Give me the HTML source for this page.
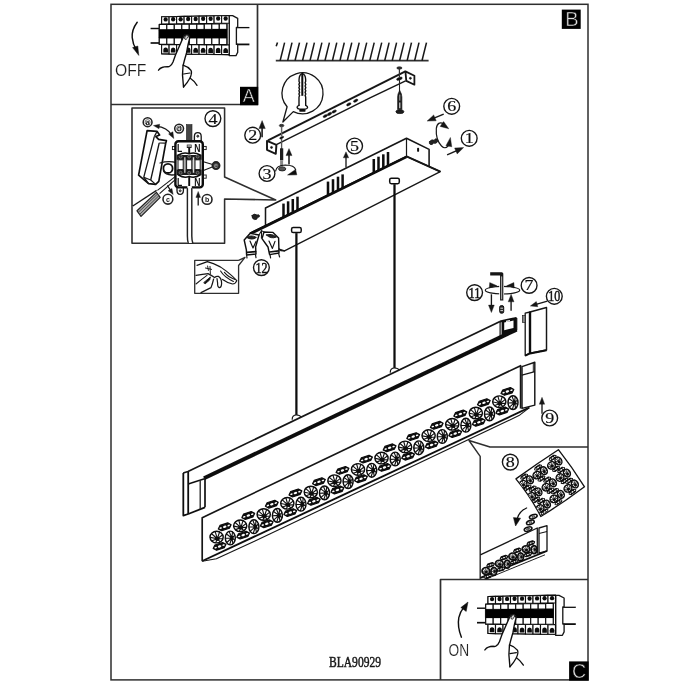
<!DOCTYPE html>
<html lang="en"><head><meta charset="utf-8"><title>BLA90929 assembly</title>
<style>
html,body{margin:0;padding:0;background:#fff;}
body{width:700px;height:700px;overflow:hidden;font-family:"Liberation Sans",sans-serif;}
svg{display:block;}
</style></head><body>
<svg width="700" height="700" viewBox="0 0 700 700">
<rect x="0" y="0" width="700" height="700" fill="#fff"/>
<defs><filter id="soft" x="0" y="0" width="700" height="700" filterUnits="userSpaceOnUse"><feGaussianBlur stdDeviation="0.35"/></filter></defs>
<g id="art" filter="url(#soft)">
<rect x="111" y="4.3" width="477" height="675.6" fill="none" stroke="#2e2e2e" stroke-width="1.5"/>
<polyline points="111.0,104.5 257.5,104.5 257.5,4.3" fill="none" stroke="#2e2e2e" stroke-width="1.68" stroke-linejoin="round" />
<rect x="240" y="86.8" width="18.2" height="18.4" fill="#000"/>
<text x="248.7" y="102.1" font-size="18" font-family="'Liberation Sans', sans-serif" fill="#e0e0e0" text-anchor="middle" stroke="#000" stroke-width="0.5">A</text>
<rect x="561.8" y="9.6" width="18.9" height="19.3" fill="#000"/>
<text x="571.9" y="26.3" font-size="20" font-family="'Liberation Sans', sans-serif" fill="#e0e0e0" text-anchor="middle" stroke="#000" stroke-width="0.5">B</text>
<polyline points="440.5,680.0 440.5,579.5 588.0,579.5" fill="none" stroke="#2e2e2e" stroke-width="1.68" stroke-linejoin="round" />
<rect x="569.1" y="661.4" width="19.6" height="19.3" fill="#000"/>
<text x="579.1" y="677.6" font-size="19.5" font-family="'Liberation Sans', sans-serif" fill="#e0e0e0" text-anchor="middle" stroke="#000" stroke-width="0.5">C</text>
<polyline points="588.0,447.0 490.0,447.0 469.0,440.5 480.2,456.4 480.2,579.5" fill="none" stroke="#2e2e2e" stroke-width="1.44" stroke-linejoin="round" />
<polygon points="132.0,108.0 224.6,108.0 224.6,177.0 275.7,200.0 224.6,199.0 224.6,243.2 132.0,243.2" fill="none" stroke="#2e2e2e" stroke-width="1.56" stroke-linejoin="round" />
<polyline points="238.6,260.4 194.7,260.4 194.7,293.3 238.6,293.3 238.6,265.5 245.0,257.3 238.6,260.4" fill="none" stroke="#2e2e2e" stroke-width="1.32" stroke-linejoin="round" />
<text x="355.0" y="666.6" font-size="14" font-family="'Liberation Serif', serif" fill="#161616" text-anchor="middle" textLength="52" lengthAdjust="spacingAndGlyphs" stroke="#1c1c1c" stroke-width="0.5">BLA90929</text>
<line x1="275.8" y1="60.7" x2="428.6" y2="60.7" stroke="#333" stroke-width="1.68" />
<line x1="276.2" y1="46.3" x2="277.5" y2="42.6" stroke="#161616" stroke-width="1.56" />
<line x1="280.1" y1="60.7" x2="284.6" y2="42.6" stroke="#161616" stroke-width="1.50" />
<line x1="287.6" y1="60.7" x2="292.0" y2="42.6" stroke="#161616" stroke-width="1.50" />
<line x1="295.0" y1="60.7" x2="299.5" y2="42.6" stroke="#161616" stroke-width="1.50" />
<line x1="302.5" y1="60.7" x2="307.0" y2="42.6" stroke="#161616" stroke-width="1.50" />
<line x1="310.0" y1="60.7" x2="314.4" y2="42.6" stroke="#161616" stroke-width="1.50" />
<line x1="317.5" y1="60.7" x2="321.9" y2="42.6" stroke="#161616" stroke-width="1.50" />
<line x1="324.9" y1="60.7" x2="329.4" y2="42.6" stroke="#161616" stroke-width="1.50" />
<line x1="332.4" y1="60.7" x2="336.8" y2="42.6" stroke="#161616" stroke-width="1.50" />
<line x1="339.9" y1="60.7" x2="344.3" y2="42.6" stroke="#161616" stroke-width="1.50" />
<line x1="347.3" y1="60.7" x2="351.8" y2="42.6" stroke="#161616" stroke-width="1.50" />
<line x1="354.8" y1="60.7" x2="359.2" y2="42.6" stroke="#161616" stroke-width="1.50" />
<line x1="362.3" y1="60.7" x2="366.7" y2="42.6" stroke="#161616" stroke-width="1.50" />
<line x1="369.7" y1="60.7" x2="374.2" y2="42.6" stroke="#161616" stroke-width="1.50" />
<line x1="377.2" y1="60.7" x2="381.7" y2="42.6" stroke="#161616" stroke-width="1.50" />
<line x1="384.7" y1="60.7" x2="389.1" y2="42.6" stroke="#161616" stroke-width="1.50" />
<line x1="392.2" y1="60.7" x2="396.6" y2="42.6" stroke="#161616" stroke-width="1.50" />
<line x1="399.6" y1="60.7" x2="404.1" y2="42.6" stroke="#161616" stroke-width="1.50" />
<line x1="407.1" y1="60.7" x2="411.5" y2="42.6" stroke="#161616" stroke-width="1.50" />
<line x1="414.6" y1="60.7" x2="419.0" y2="42.6" stroke="#161616" stroke-width="1.50" />
<line x1="422.0" y1="60.7" x2="426.5" y2="42.6" stroke="#161616" stroke-width="1.50" />
<path d="M287.1,106.8 A20.5,20.5 0 1 1 293.3,111.6 L282.9,122 Z" fill="#fff" stroke="#161616" stroke-width="1.32" stroke-linejoin="round" stroke-linecap="round" />
<path d="M299.0,105.3 L299.0,97 L299.6,95.6 L298.9,94 L299.6,92.4 L298.9,90.8 L299.6,89.2 L298.9,87.6 L299.6,86 L298.9,84.4 L299.6,82.8 L299.0,81.2 L299.1,79 Q299.3,74.5 302.3,73.3 Q305.4,74.5 305.6,79 L305.7,81.2 L305.1,82.8 L305.8,84.4 L305.1,86 L305.8,87.6 L305.1,89.2 L305.8,90.8 L305.1,92.4 L305.8,94 L305.1,95.6 L305.7,97 L305.7,105.3" fill="none" stroke="#111" stroke-width="1.38" stroke-linejoin="round" stroke-linecap="round" />
<line x1="302.3" y1="74.0" x2="302.3" y2="95.8" stroke="#111" stroke-width="2.04" />
<path d="M299.0,105.3 Q296.9,106 297.1,107.5 Q297.5,109 299.6,109.1 L305.1,109.1 Q307.4,109 307.6,107.5 Q307.7,106 305.7,105.3" fill="none" stroke="#111" stroke-width="1.38" stroke-linejoin="round" stroke-linecap="round" />
<rect x="299.3" y="109" width="6.2" height="2.8" rx="0.9" fill="#111"/>
<polyline points="268.0,140.4 405.4,71.4" fill="none" stroke="#161616" stroke-width="1.92" stroke-linejoin="round" />
<polyline points="276.4,144.7 370.0,97.8 405.6,80.9" fill="none" stroke="#161616" stroke-width="1.44" stroke-linejoin="round" />
<polygon points="267.0,140.9 276.4,144.9 275.8,153.8 267.0,149.8" fill="#fff" stroke="#161616" stroke-width="1.92" stroke-linejoin="round" />
<circle cx="271.5" cy="147.4" r="1.0" fill="#161616" stroke="#161616" stroke-width="0.72"/>
<polygon points="405.4,71.4 414.4,75.7 414.4,84.7 406.3,80.9" fill="#fff" stroke="#161616" stroke-width="1.80" stroke-linejoin="round" />
<circle cx="410.4" cy="78.3" r="1.0" fill="#161616" stroke="#161616" stroke-width="0.72"/>
<ellipse cx="325.3" cy="116.0" rx="2.4" ry="1.2" transform="rotate(-27 325.3 116.0)" fill="#111" stroke="#161616" stroke-width="0.48"/>
<ellipse cx="329.6" cy="113.9" rx="2.4" ry="1.2" transform="rotate(-27 329.6 113.9)" fill="#111" stroke="#161616" stroke-width="0.48"/>
<ellipse cx="334.2" cy="111.5" rx="2.4" ry="1.2" transform="rotate(-27 334.2 111.5)" fill="#111" stroke="#161616" stroke-width="0.48"/>
<ellipse cx="348.8" cy="104.3" rx="2.4" ry="1.2" transform="rotate(-27 348.8 104.3)" fill="#111" stroke="#161616" stroke-width="0.48"/>
<ellipse cx="355.7" cy="100.7" rx="2.4" ry="1.2" transform="rotate(-27 355.7 100.7)" fill="#111" stroke="#161616" stroke-width="0.48"/>
<ellipse cx="281.7" cy="137.6" rx="2.2" ry="1.0" transform="rotate(-27 281.7 137.6)" fill="#111" stroke="#161616" stroke-width="0.48"/>
<ellipse cx="399.4" cy="78.7" rx="3.0" ry="1.3" transform="rotate(-20 399.4 78.7)" fill="#111" stroke="#161616" stroke-width="0.48"/>
<ellipse cx="281.6" cy="125.6" rx="2.3" ry="1.3" transform="rotate(0 281.6 125.6)" fill="#333" stroke="#161616" stroke-width="0.60"/>
<line x1="281.6" y1="126.5" x2="281.6" y2="136.5" stroke="#666" stroke-width="1.44" />
<line x1="281.6" y1="139.0" x2="281.6" y2="149.0" stroke="#555" stroke-width="1.32" />
<line x1="281.6" y1="148.3" x2="281.6" y2="160.3" stroke="#1a1a1a" stroke-width="3.24" />
<line x1="281.6" y1="160.3" x2="281.6" y2="166.5" stroke="#888" stroke-width="3.00" />
<path d="M275.6,171 Q276.4,165.2 285.4,165 Q294.6,165.2 295.6,169.6" fill="none" stroke="#161616" stroke-width="1.20" stroke-linejoin="round" stroke-linecap="round" />
<ellipse cx="282.2" cy="168.9" rx="3.6" ry="2.0" transform="rotate(0 282.2 168.9)" fill="#555" stroke="#222" stroke-width="0.96"/>
<polygon points="287.6,175.0 295.6,169.4 296.8,174.8" fill="#111" stroke="#161616" stroke-width="0.48" stroke-linejoin="round" />
<line x1="289.0" y1="164.6" x2="289.0" y2="154.6" stroke="#161616" stroke-width="1.56" />
<polygon points="289.0,148.6 292.0,155.6 286.0,155.6" fill="#161616" stroke="#161616" stroke-width="0.36" stroke-linejoin="round" />
<line x1="262.1" y1="137.2" x2="262.1" y2="127.6" stroke="#161616" stroke-width="1.56" />
<polygon points="262.1,120.6 265.3,128.6 258.9,128.6" fill="#161616" stroke="#161616" stroke-width="0.36" stroke-linejoin="round" />
<circle cx="252.7" cy="135.2" r="7.9" fill="#fff" stroke="#161616" stroke-width="1.38"/>
<text transform="translate(252.7,140.2) scale(1.2,1)" x="0" y="0" font-size="15" font-family="'Liberation Serif', serif" fill="#111" stroke="#111" stroke-width="0.2" text-anchor="middle">2</text>
<circle cx="267.0" cy="173.5" r="7.9" fill="#fff" stroke="#161616" stroke-width="1.38"/>
<text transform="translate(267.0,178.5) scale(1.2,1)" x="0" y="0" font-size="15" font-family="'Liberation Serif', serif" fill="#111" stroke="#111" stroke-width="0.2" text-anchor="middle">3</text>
<ellipse cx="399.4" cy="68.0" rx="2.6" ry="1.2" transform="rotate(0 399.4 68.0)" fill="#333" stroke="#161616" stroke-width="0.60"/>
<line x1="399.4" y1="69.0" x2="399.4" y2="77.5" stroke="#333" stroke-width="1.20" />
<line x1="399.5" y1="80.0" x2="399.5" y2="92.0" stroke="#222" stroke-width="1.08" />
<path d="M399.6,90.6 Q397.7,93.6 397.6,97 L397.6,109.6 L401.9,109.6 L401.9,97 Q401.8,93.6 399.8,90.6 Z" fill="#1c1c1c" stroke="#111" stroke-width="0.60" stroke-linejoin="round" stroke-linecap="round" />
<line x1="399.8" y1="94.6" x2="399.8" y2="100.6" stroke="#bbb" stroke-width="0.96" />
<line x1="399.8" y1="102.6" x2="399.8" y2="108.2" stroke="#eee" stroke-width="1.08" />
<ellipse cx="399.9" cy="111.7" rx="4.0" ry="1.9" transform="rotate(0 399.9 111.7)" fill="#1c1c1c" stroke="#111" stroke-width="0.72"/>
<polyline points="250.0,233.0 406.5,156.3 440.3,171.7 284.5,250.9 279.0,249.0" fill="#fff" stroke="#161616" stroke-width="1.32" stroke-linejoin="round" />
<polyline points="265.5,226.0 265.5,208.0 406.5,138.3 429.1,149.4 429.1,166.4" fill="none" stroke="#161616" stroke-width="1.56" stroke-linejoin="round" />
<line x1="406.5" y1="138.3" x2="406.5" y2="156.3" stroke="#161616" stroke-width="1.20" />
<line x1="250.0" y1="233.9" x2="406.5" y2="156.9" stroke="#0c0c0c" stroke-width="2.64" />
<line x1="406.5" y1="156.3" x2="440.3" y2="171.7" stroke="#161616" stroke-width="1.92" />
<line x1="283.5" y1="203.6" x2="283.5" y2="217.7" stroke="#0c0c0c" stroke-width="2.52" />
<line x1="288.1" y1="201.3" x2="288.1" y2="215.4" stroke="#0c0c0c" stroke-width="2.52" />
<line x1="292.8" y1="199.0" x2="292.8" y2="213.1" stroke="#0c0c0c" stroke-width="2.52" />
<line x1="297.5" y1="196.7" x2="297.5" y2="210.8" stroke="#0c0c0c" stroke-width="2.52" />
<line x1="328.0" y1="181.6" x2="328.0" y2="195.8" stroke="#0c0c0c" stroke-width="2.52" />
<line x1="333.0" y1="179.2" x2="333.0" y2="193.3" stroke="#0c0c0c" stroke-width="2.52" />
<line x1="338.0" y1="176.7" x2="338.0" y2="190.8" stroke="#0c0c0c" stroke-width="2.52" />
<line x1="342.6" y1="174.4" x2="342.6" y2="188.6" stroke="#0c0c0c" stroke-width="2.52" />
<line x1="373.8" y1="159.0" x2="373.8" y2="173.2" stroke="#0c0c0c" stroke-width="2.52" />
<line x1="378.5" y1="156.7" x2="378.5" y2="170.9" stroke="#0c0c0c" stroke-width="2.52" />
<line x1="383.3" y1="154.3" x2="383.3" y2="168.5" stroke="#0c0c0c" stroke-width="2.52" />
<line x1="388.0" y1="152.0" x2="388.0" y2="166.2" stroke="#0c0c0c" stroke-width="2.52" />
<rect x="417.1" y="147.8" width="2.0" height="4.0" rx="0.9" fill="#111"/>
<rect x="291.6" y="227.5" width="9.6" height="5.1" rx="1.6" fill="#fff" stroke="#111" stroke-width="1.5"/>
<line x1="296.4" y1="233.1" x2="296.4" y2="415.0" stroke="#111" stroke-width="2.28" />
<path d="M292.2,419.2 Q292.2,415 296.4,415 Q300.59999999999997,415 300.59999999999997,417.2" fill="#fff" stroke="#161616" stroke-width="1.20" stroke-linejoin="round" stroke-linecap="round" />
<rect x="389.7" y="178.2" width="9.6" height="5.5" rx="1.6" fill="#fff" stroke="#111" stroke-width="1.5"/>
<line x1="394.5" y1="184.2" x2="394.5" y2="368.0" stroke="#111" stroke-width="2.28" />
<path d="M390.3,372.2 Q390.3,368 394.5,368 Q398.7,368 398.7,370.2" fill="#fff" stroke="#161616" stroke-width="1.20" stroke-linejoin="round" stroke-linecap="round" />
<line x1="346.0" y1="167.4" x2="346.0" y2="156.8" stroke="#161616" stroke-width="1.32" />
<polygon points="346.0,151.8 348.7,157.8 343.3,157.8" fill="#161616" stroke="#161616" stroke-width="0.36" stroke-linejoin="round" />
<circle cx="354.6" cy="146.0" r="7.9" fill="#fff" stroke="#161616" stroke-width="1.38"/>
<text transform="translate(354.6,151.0) scale(1.2,1)" x="0" y="0" font-size="15" font-family="'Liberation Serif', serif" fill="#111" stroke="#111" stroke-width="0.2" text-anchor="middle">5</text>
<path d="M252,215.5 q2.5,-2.5 5,-0.5 q2,-1 2.6,0.8 q0.2,1.6 -2,1.6 q-0.4,2.6 -3,2.2 q-3,-0.6 -2.6,-4.1 Z" fill="#222" stroke="#161616" stroke-width="0.72" stroke-linejoin="round" stroke-linecap="round" />
<circle cx="451.7" cy="106.3" r="7.9" fill="#fff" stroke="#161616" stroke-width="1.38"/>
<text transform="translate(451.7,111.3) scale(1.2,1)" x="0" y="0" font-size="15" font-family="'Liberation Serif', serif" fill="#111" stroke="#111" stroke-width="0.2" text-anchor="middle">6</text>
<circle cx="469.2" cy="138.3" r="7.9" fill="#fff" stroke="#161616" stroke-width="1.38"/>
<text transform="translate(469.2,143.3) scale(1.2,1)" x="0" y="0" font-size="15" font-family="'Liberation Serif', serif" fill="#111" stroke="#111" stroke-width="0.2" text-anchor="middle">1</text>
<line x1="443.7" y1="114.2" x2="434.0" y2="118.2" stroke="#161616" stroke-width="1.44" />
<polygon points="427.1,121.1 433.7,114.9 436.2,120.8" fill="#161616" stroke="#161616" stroke-width="0.36" stroke-linejoin="round" />
<line x1="447.1" y1="154.9" x2="456.8" y2="150.6" stroke="#161616" stroke-width="1.44" />
<polygon points="463.7,147.5 457.2,153.9 454.6,148.0" fill="#161616" stroke="#161616" stroke-width="0.36" stroke-linejoin="round" />
<path d="M444,124 Q437.5,120.5 436.3,128.5 Q435.6,140 441.5,146 Q445,149.5 448,146" fill="none" stroke="#161616" stroke-width="1.20" stroke-linejoin="round" stroke-linecap="round" />
<polygon points="448.8,128.8 440.1,126.4 443.6,121.5" fill="#161616" stroke="#161616" stroke-width="0.36" stroke-linejoin="round" />
<polygon points="450.4,137.4 451.8,146.8 445.9,145.7" fill="#161616" stroke="#161616" stroke-width="0.36" stroke-linejoin="round" />
<path d="M429.5,141.5 q2.2,-2.8 4.8,-1.2 q0.6,-2.4 2.8,-1.2 q1.8,1.8 -0.4,3.6 q-1.6,1.2 -3,0.4 q-1.2,2.2 -3.4,1.4 q-1.8,-1 -0.8,-3 Z" fill="#222" stroke="#161616" stroke-width="0.72" stroke-linejoin="round" stroke-linecap="round" />
<polyline points="183.2,473.0 188.0,471.5 500.0,321.5" fill="none" stroke="#161616" stroke-width="1.74" stroke-linejoin="round" />
<line x1="500.0" y1="321.5" x2="516.5" y2="318.0" stroke="#111" stroke-width="2.16" />
<polyline points="183.3,473.0 183.3,515.6 188.2,514.0 205.0,507.3" fill="none" stroke="#111" stroke-width="1.80" stroke-linejoin="round" />
<line x1="188.2" y1="471.5" x2="188.2" y2="514.0" stroke="#111" stroke-width="1.80" />
<line x1="188.2" y1="484.0" x2="204.5" y2="478.8" stroke="#111" stroke-width="1.44" />
<line x1="200.2" y1="480.3" x2="200.2" y2="508.8" stroke="#222" stroke-width="1.32" />
<line x1="205.0" y1="478.6" x2="205.0" y2="507.3" stroke="#111" stroke-width="1.68" />
<polyline points="204.0,478.2 516.5,329.6" fill="none" stroke="#0d0d0d" stroke-width="3.96" stroke-linejoin="round" />
<polygon points="502,321.3 516.9,318 516.9,330.4 502,337.6" fill="#0c0c0c" stroke="#0c0c0c" stroke-width="0.8" stroke-linejoin="round"/>
<polygon points="504.2,322.6 513.5,320.5 513.5,328 504.2,330.2" fill="#fff"/>
<line x1="500.1" y1="321.6" x2="500.1" y2="338.4" stroke="#111" stroke-width="1.20" />
<line x1="506.0" y1="321.4" x2="510.0" y2="320.6" stroke="#fff" stroke-width="1.20" />
<polygon points="530.0,312.0 546.5,307.5 546.5,350.0 530.0,353.2" fill="#fff" stroke="#161616" stroke-width="1.44" stroke-linejoin="round" />
<polygon points="530.0,312.0 525.2,313.2 525.2,355.6 530.0,353.2" fill="#fff" stroke="#161616" stroke-width="1.32" stroke-linejoin="round" />
<line x1="530.0" y1="312.0" x2="530.0" y2="353.2" stroke="#111" stroke-width="2.40" />
<polyline points="525.2,355.6 530.0,353.4 546.5,350.2" fill="none" stroke="#111" stroke-width="2.04" stroke-linejoin="round" />
<rect x="522.4" y="315.6" width="2.8" height="6.8" fill="#888" stroke="#222" stroke-width="0.7"/>
<circle cx="554.3" cy="296.3" r="7.9" fill="#fff" stroke="#161616" stroke-width="1.38"/>
<text x="554.3" y="301.3" font-size="15" font-family="'Liberation Serif', serif" fill="#111" stroke="#111" stroke-width="0.5" text-anchor="middle" textLength="12.0" lengthAdjust="spacingAndGlyphs">10</text>
<line x1="547.4" y1="301.1" x2="536.1" y2="304.3" stroke="#161616" stroke-width="1.32" />
<polygon points="530.3,306.0 536.3,301.5 537.8,306.7" fill="#161616" stroke="#161616" stroke-width="0.36" stroke-linejoin="round" />
<ellipse cx="502.5" cy="290.2" rx="17.2" ry="3.8" transform="rotate(0 502.5 290.2)" fill="none" stroke="#161616" stroke-width="1.14"/>
<rect x="499.2" y="283" width="4.8" height="12" fill="#fff"/>
<polyline points="490.2,273.8 501.7,273.8 501.7,300.4" fill="none" stroke="#151515" stroke-width="3.24" stroke-linejoin="round" />
<line x1="501.7" y1="276.4" x2="501.7" y2="299.4" stroke="#d8d8d8" stroke-width="0.90" />
<polygon points="497.0,285.8 489.3,288.1 489.7,282.5" fill="#161616" stroke="#161616" stroke-width="0.36" stroke-linejoin="round" />
<polygon points="506.6,285.8 513.9,282.5 514.3,288.1" fill="#161616" stroke="#161616" stroke-width="0.36" stroke-linejoin="round" />
<line x1="491.4" y1="294.3" x2="491.4" y2="306.1" stroke="#161616" stroke-width="1.38" />
<polygon points="491.4,312.6 488.5,305.1 494.3,305.1" fill="#161616" stroke="#161616" stroke-width="0.36" stroke-linejoin="round" />
<line x1="511.1" y1="310.8" x2="511.1" y2="300.8" stroke="#161616" stroke-width="1.38" />
<polygon points="511.1,294.3 514.0,301.8 508.2,301.8" fill="#161616" stroke="#161616" stroke-width="0.36" stroke-linejoin="round" />
<rect x="499.7" y="305.6" width="4" height="7.6" rx="1.6" fill="#2a2a2a" stroke="#111" stroke-width="1.0"/>
<line x1="500.4" y1="308.2" x2="503.0" y2="308.2" stroke="#ddd" stroke-width="0.96" />
<line x1="500.4" y1="310.6" x2="503.0" y2="310.6" stroke="#ddd" stroke-width="0.96" />
<circle cx="529.1" cy="285.4" r="7.9" fill="#fff" stroke="#161616" stroke-width="1.38"/>
<text transform="translate(529.1,290.4) scale(1.2,1)" x="0" y="0" font-size="15" font-family="'Liberation Serif', serif" fill="#111" stroke="#111" stroke-width="0.2" text-anchor="middle">7</text>
<circle cx="474.6" cy="292.6" r="7.9" fill="#fff" stroke="#161616" stroke-width="1.38"/>
<text x="474.6" y="297.6" font-size="15" font-family="'Liberation Serif', serif" fill="#111" stroke="#111" stroke-width="0.5" text-anchor="middle" textLength="12.0" lengthAdjust="spacingAndGlyphs">11</text>
<polyline points="202.2,561.0 202.2,517.7 520.6,365.7 520.6,408.6" fill="#fff" stroke="#161616" stroke-width="1.68" stroke-linejoin="round" />
<polyline points="202.3,561.0 529.1,407.7" fill="none" stroke="#111" stroke-width="1.92" stroke-linejoin="round" />
<path d="M202.3,561.2 L216.4,558.8 L255,541.0 L519,415.6 L529.1,407.9" fill="none" stroke="#161616" stroke-width="1.14" stroke-linejoin="round" stroke-linecap="round" />
<polygon points="522.0,366.6 534.8,362.3 534.8,405.1 522.0,408.4" fill="#fff" stroke="#161616" stroke-width="1.44" stroke-linejoin="round" />
<line x1="522.0" y1="375.2" x2="534.8" y2="371.6" stroke="#161616" stroke-width="1.20" />
<line x1="533.3" y1="362.8" x2="533.3" y2="372.0" stroke="#161616" stroke-width="0.96" />
<ellipse cx="216.6" cy="537.1" rx="6.6" ry="5.8" transform="rotate(0 216.6 537.1)" fill="#fff" stroke="#0a0a0a" stroke-width="1.44"/>
<path d="M217.3,538.8 L222.6,538.7 M217.3,538.8 L220.0,541.7 M217.3,538.8 L215.8,542.6 M217.3,538.8 L212.0,540.8 M217.3,538.8 L210.3,537.4 M217.3,538.8 L211.6,533.8 M217.3,538.8 L215.2,531.7 M217.3,538.8 L219.5,532.2 M217.3,538.8 L222.4,535.0" fill="none" stroke="#111" stroke-width="1.14" stroke-linejoin="round" stroke-linecap="round" />
<ellipse cx="217.3" cy="538.8" rx="2.5" ry="2.1" transform="rotate(0 217.3 538.8)" fill="#111" stroke="#161616" stroke-width="0.00"/>
<ellipse cx="230.3" cy="538.0" rx="5.0" ry="6.9" transform="rotate(0 230.3 538.0)" fill="#fff" stroke="#0a0a0a" stroke-width="1.44"/>
<path d="M231.8,538.0 L234.8,539.9 M231.8,538.0 L232.9,543.5 M231.8,538.0 L229.7,544.5 M231.8,538.0 L226.8,542.5 M231.8,538.0 L225.6,538.3 M231.8,538.0 L226.5,534.0 M231.8,538.0 L229.2,531.6 M231.8,538.0 L232.5,532.2 M231.8,538.0 L234.7,535.5" fill="none" stroke="#111" stroke-width="1.14" stroke-linejoin="round" stroke-linecap="round" />
<ellipse cx="231.8" cy="538.0" rx="1.9" ry="2.5" transform="rotate(0 231.8 538.0)" fill="#111" stroke="#161616" stroke-width="0.00"/>
<polygon points="218.3,528.9 220.0,525.4 227.7,522.9 231.1,524.7 229.4,528.2 221.7,530.7" fill="#111" stroke="#0a0a0a" stroke-width="1.20" stroke-linejoin="round" />
<ellipse cx="220.7" cy="528.1" rx="1.3" ry="0.8" transform="rotate(-18 220.7 528.1)" fill="#fff" stroke="#161616" stroke-width="0.00"/>
<ellipse cx="224.7" cy="526.8" rx="1.8" ry="1.1" transform="rotate(-18 224.7 526.8)" fill="#fff" stroke="#161616" stroke-width="0.00"/>
<ellipse cx="228.7" cy="525.5" rx="1.3" ry="0.8" transform="rotate(-18 228.7 525.5)" fill="#fff" stroke="#161616" stroke-width="0.00"/>
<polygon points="213.2,548.5 214.9,545.0 222.6,542.5 226.0,544.3 224.3,547.8 216.6,550.3" fill="#111" stroke="#0a0a0a" stroke-width="1.20" stroke-linejoin="round" />
<ellipse cx="215.6" cy="547.7" rx="1.3" ry="0.8" transform="rotate(-18 215.6 547.7)" fill="#fff" stroke="#161616" stroke-width="0.00"/>
<ellipse cx="219.6" cy="546.4" rx="1.8" ry="1.1" transform="rotate(-18 219.6 546.4)" fill="#fff" stroke="#161616" stroke-width="0.00"/>
<ellipse cx="223.6" cy="545.1" rx="1.3" ry="0.8" transform="rotate(-18 223.6 545.1)" fill="#fff" stroke="#161616" stroke-width="0.00"/>
<ellipse cx="240.2" cy="525.8" rx="6.6" ry="5.8" transform="rotate(0 240.2 525.8)" fill="#fff" stroke="#0a0a0a" stroke-width="1.44"/>
<path d="M240.8,527.6 L246.1,527.4 M240.8,527.6 L243.6,530.5 M240.8,527.6 L239.4,531.3 M240.8,527.6 L235.6,529.6 M240.8,527.6 L233.9,526.1 M240.8,527.6 L235.2,522.5 M240.8,527.6 L238.8,520.4 M240.8,527.6 L243.0,520.9 M240.8,527.6 L245.9,523.7" fill="none" stroke="#111" stroke-width="1.14" stroke-linejoin="round" stroke-linecap="round" />
<ellipse cx="240.8" cy="527.6" rx="2.5" ry="2.1" transform="rotate(0 240.8 527.6)" fill="#111" stroke="#161616" stroke-width="0.00"/>
<ellipse cx="253.9" cy="526.7" rx="5.0" ry="6.9" transform="rotate(0 253.9 526.7)" fill="#fff" stroke="#0a0a0a" stroke-width="1.44"/>
<path d="M255.4,526.7 L258.4,528.7 M255.4,526.7 L256.4,532.2 M255.4,526.7 L253.3,533.2 M255.4,526.7 L250.4,531.2 M255.4,526.7 L249.1,527.0 M255.4,526.7 L250.1,522.8 M255.4,526.7 L252.8,520.3 M255.4,526.7 L256.0,520.9 M255.4,526.7 L258.2,524.2" fill="none" stroke="#111" stroke-width="1.14" stroke-linejoin="round" stroke-linecap="round" />
<ellipse cx="255.4" cy="526.7" rx="1.9" ry="2.5" transform="rotate(0 255.4 526.7)" fill="#111" stroke="#161616" stroke-width="0.00"/>
<polygon points="241.9,517.6 243.6,514.1 251.2,511.6 254.6,513.4 252.9,516.9 245.3,519.4" fill="#111" stroke="#0a0a0a" stroke-width="1.20" stroke-linejoin="round" />
<ellipse cx="244.3" cy="516.8" rx="1.3" ry="0.8" transform="rotate(-18 244.3 516.8)" fill="#fff" stroke="#161616" stroke-width="0.00"/>
<ellipse cx="248.3" cy="515.5" rx="1.8" ry="1.1" transform="rotate(-18 248.3 515.5)" fill="#fff" stroke="#161616" stroke-width="0.00"/>
<ellipse cx="252.2" cy="514.2" rx="1.3" ry="0.8" transform="rotate(-18 252.2 514.2)" fill="#fff" stroke="#161616" stroke-width="0.00"/>
<polygon points="236.8,537.2 238.5,533.7 246.1,531.2 249.5,533.0 247.8,536.5 240.2,539.0" fill="#111" stroke="#0a0a0a" stroke-width="1.20" stroke-linejoin="round" />
<ellipse cx="239.2" cy="536.4" rx="1.3" ry="0.8" transform="rotate(-18 239.2 536.4)" fill="#fff" stroke="#161616" stroke-width="0.00"/>
<ellipse cx="243.2" cy="535.1" rx="1.8" ry="1.1" transform="rotate(-18 243.2 535.1)" fill="#fff" stroke="#161616" stroke-width="0.00"/>
<ellipse cx="247.1" cy="533.8" rx="1.3" ry="0.8" transform="rotate(-18 247.1 533.8)" fill="#fff" stroke="#161616" stroke-width="0.00"/>
<ellipse cx="263.7" cy="514.5" rx="6.6" ry="5.8" transform="rotate(0 263.7 514.5)" fill="#fff" stroke="#0a0a0a" stroke-width="1.44"/>
<path d="M264.4,516.3 L269.7,516.2 M264.4,516.3 L267.1,519.2 M264.4,516.3 L262.9,520.0 M264.4,516.3 L259.1,518.3 M264.4,516.3 L257.5,514.8 M264.4,516.3 L258.7,511.2 M264.4,516.3 L262.3,509.2 M264.4,516.3 L266.6,509.6 M264.4,516.3 L269.5,512.4" fill="none" stroke="#111" stroke-width="1.14" stroke-linejoin="round" stroke-linecap="round" />
<ellipse cx="264.4" cy="516.3" rx="2.5" ry="2.1" transform="rotate(0 264.4 516.3)" fill="#111" stroke="#161616" stroke-width="0.00"/>
<ellipse cx="277.4" cy="515.4" rx="5.0" ry="6.9" transform="rotate(0 277.4 515.4)" fill="#fff" stroke="#0a0a0a" stroke-width="1.44"/>
<path d="M278.9,515.4 L282.0,517.4 M278.9,515.4 L280.0,520.9 M278.9,515.4 L276.8,521.9 M278.9,515.4 L273.9,519.9 M278.9,515.4 L272.7,515.8 M278.9,515.4 L273.6,511.5 M278.9,515.4 L276.4,509.0 M278.9,515.4 L279.6,509.6 M278.9,515.4 L281.8,512.9" fill="none" stroke="#111" stroke-width="1.14" stroke-linejoin="round" stroke-linecap="round" />
<ellipse cx="278.9" cy="515.4" rx="1.9" ry="2.5" transform="rotate(0 278.9 515.4)" fill="#111" stroke="#161616" stroke-width="0.00"/>
<polygon points="265.4,506.3 267.1,502.8 274.8,500.3 278.2,502.2 276.5,505.7 268.9,508.1" fill="#111" stroke="#0a0a0a" stroke-width="1.20" stroke-linejoin="round" />
<ellipse cx="267.9" cy="505.5" rx="1.3" ry="0.8" transform="rotate(-18 267.9 505.5)" fill="#fff" stroke="#161616" stroke-width="0.00"/>
<ellipse cx="271.8" cy="504.2" rx="1.8" ry="1.1" transform="rotate(-18 271.8 504.2)" fill="#fff" stroke="#161616" stroke-width="0.00"/>
<ellipse cx="275.8" cy="503.0" rx="1.3" ry="0.8" transform="rotate(-18 275.8 503.0)" fill="#fff" stroke="#161616" stroke-width="0.00"/>
<polygon points="260.3,525.9 262.0,522.4 269.7,519.9 273.1,521.8 271.4,525.3 263.8,527.7" fill="#111" stroke="#0a0a0a" stroke-width="1.20" stroke-linejoin="round" />
<ellipse cx="262.8" cy="525.1" rx="1.3" ry="0.8" transform="rotate(-18 262.8 525.1)" fill="#fff" stroke="#161616" stroke-width="0.00"/>
<ellipse cx="266.7" cy="523.8" rx="1.8" ry="1.1" transform="rotate(-18 266.7 523.8)" fill="#fff" stroke="#161616" stroke-width="0.00"/>
<ellipse cx="270.7" cy="522.6" rx="1.3" ry="0.8" transform="rotate(-18 270.7 522.6)" fill="#fff" stroke="#161616" stroke-width="0.00"/>
<ellipse cx="287.3" cy="503.3" rx="6.6" ry="5.8" transform="rotate(0 287.3 503.3)" fill="#fff" stroke="#0a0a0a" stroke-width="1.44"/>
<path d="M287.9,505.0 L293.3,504.9 M287.9,505.0 L290.7,507.9 M287.9,505.0 L286.5,508.7 M287.9,505.0 L282.7,507.0 M287.9,505.0 L281.0,503.5 M287.9,505.0 L282.3,499.9 M287.9,505.0 L285.9,497.9 M287.9,505.0 L290.1,498.4 M287.9,505.0 L293.1,501.1" fill="none" stroke="#111" stroke-width="1.14" stroke-linejoin="round" stroke-linecap="round" />
<ellipse cx="287.9" cy="505.0" rx="2.5" ry="2.1" transform="rotate(0 287.9 505.0)" fill="#111" stroke="#161616" stroke-width="0.00"/>
<ellipse cx="301.0" cy="504.2" rx="5.0" ry="6.9" transform="rotate(0 301.0 504.2)" fill="#fff" stroke="#0a0a0a" stroke-width="1.44"/>
<path d="M302.5,504.2 L305.5,506.1 M302.5,504.2 L303.6,509.7 M302.5,504.2 L300.4,510.7 M302.5,504.2 L297.5,508.6 M302.5,504.2 L296.2,504.5 M302.5,504.2 L297.2,500.2 M302.5,504.2 L299.9,497.8 M302.5,504.2 L303.2,498.3 M302.5,504.2 L305.4,501.6" fill="none" stroke="#111" stroke-width="1.14" stroke-linejoin="round" stroke-linecap="round" />
<ellipse cx="302.5" cy="504.2" rx="1.9" ry="2.5" transform="rotate(0 302.5 504.2)" fill="#111" stroke="#161616" stroke-width="0.00"/>
<polygon points="289.0,495.0 290.7,491.5 298.3,489.1 301.8,490.9 300.1,494.4 292.4,496.9" fill="#111" stroke="#0a0a0a" stroke-width="1.20" stroke-linejoin="round" />
<ellipse cx="291.4" cy="494.2" rx="1.3" ry="0.8" transform="rotate(-18 291.4 494.2)" fill="#fff" stroke="#161616" stroke-width="0.00"/>
<ellipse cx="295.4" cy="493.0" rx="1.8" ry="1.1" transform="rotate(-18 295.4 493.0)" fill="#fff" stroke="#161616" stroke-width="0.00"/>
<ellipse cx="299.3" cy="491.7" rx="1.3" ry="0.8" transform="rotate(-18 299.3 491.7)" fill="#fff" stroke="#161616" stroke-width="0.00"/>
<polygon points="283.9,514.6 285.6,511.1 293.2,508.7 296.7,510.5 295.0,514.0 287.3,516.5" fill="#111" stroke="#0a0a0a" stroke-width="1.20" stroke-linejoin="round" />
<ellipse cx="286.3" cy="513.8" rx="1.3" ry="0.8" transform="rotate(-18 286.3 513.8)" fill="#fff" stroke="#161616" stroke-width="0.00"/>
<ellipse cx="290.3" cy="512.6" rx="1.8" ry="1.1" transform="rotate(-18 290.3 512.6)" fill="#fff" stroke="#161616" stroke-width="0.00"/>
<ellipse cx="294.2" cy="511.3" rx="1.3" ry="0.8" transform="rotate(-18 294.2 511.3)" fill="#fff" stroke="#161616" stroke-width="0.00"/>
<ellipse cx="310.8" cy="492.0" rx="6.6" ry="5.8" transform="rotate(0 310.8 492.0)" fill="#fff" stroke="#0a0a0a" stroke-width="1.44"/>
<path d="M311.5,493.7 L316.8,493.6 M311.5,493.7 L314.2,496.6 M311.5,493.7 L310.1,497.4 M311.5,493.7 L306.2,495.7 M311.5,493.7 L304.6,492.3 M311.5,493.7 L305.8,488.6 M311.5,493.7 L309.4,486.6 M311.5,493.7 L313.7,487.1 M311.5,493.7 L316.6,489.8" fill="none" stroke="#111" stroke-width="1.14" stroke-linejoin="round" stroke-linecap="round" />
<ellipse cx="311.5" cy="493.7" rx="2.5" ry="2.1" transform="rotate(0 311.5 493.7)" fill="#111" stroke="#161616" stroke-width="0.00"/>
<ellipse cx="324.5" cy="492.9" rx="5.0" ry="6.9" transform="rotate(0 324.5 492.9)" fill="#fff" stroke="#0a0a0a" stroke-width="1.44"/>
<path d="M326.0,492.9 L329.1,494.8 M326.0,492.9 L327.1,498.4 M326.0,492.9 L323.9,499.4 M326.0,492.9 L321.1,497.3 M326.0,492.9 L319.8,493.2 M326.0,492.9 L320.8,488.9 M326.0,492.9 L323.5,486.5 M326.0,492.9 L326.7,487.0 M326.0,492.9 L328.9,490.3" fill="none" stroke="#111" stroke-width="1.14" stroke-linejoin="round" stroke-linecap="round" />
<ellipse cx="326.0" cy="492.9" rx="1.9" ry="2.5" transform="rotate(0 326.0 492.9)" fill="#111" stroke="#161616" stroke-width="0.00"/>
<polygon points="312.6,483.8 314.3,480.3 321.9,477.8 325.3,479.6 323.6,483.1 316.0,485.6" fill="#111" stroke="#0a0a0a" stroke-width="1.20" stroke-linejoin="round" />
<ellipse cx="315.0" cy="483.0" rx="1.3" ry="0.8" transform="rotate(-18 315.0 483.0)" fill="#fff" stroke="#161616" stroke-width="0.00"/>
<ellipse cx="318.9" cy="481.7" rx="1.8" ry="1.1" transform="rotate(-18 318.9 481.7)" fill="#fff" stroke="#161616" stroke-width="0.00"/>
<ellipse cx="322.9" cy="480.4" rx="1.3" ry="0.8" transform="rotate(-18 322.9 480.4)" fill="#fff" stroke="#161616" stroke-width="0.00"/>
<polygon points="307.5,503.4 309.2,499.9 316.8,497.4 320.2,499.2 318.5,502.7 310.9,505.2" fill="#111" stroke="#0a0a0a" stroke-width="1.20" stroke-linejoin="round" />
<ellipse cx="309.9" cy="502.6" rx="1.3" ry="0.8" transform="rotate(-18 309.9 502.6)" fill="#fff" stroke="#161616" stroke-width="0.00"/>
<ellipse cx="313.8" cy="501.3" rx="1.8" ry="1.1" transform="rotate(-18 313.8 501.3)" fill="#fff" stroke="#161616" stroke-width="0.00"/>
<ellipse cx="317.8" cy="500.0" rx="1.3" ry="0.8" transform="rotate(-18 317.8 500.0)" fill="#fff" stroke="#161616" stroke-width="0.00"/>
<ellipse cx="334.4" cy="480.7" rx="6.6" ry="5.8" transform="rotate(0 334.4 480.7)" fill="#fff" stroke="#0a0a0a" stroke-width="1.44"/>
<path d="M335.1,482.4 L340.4,482.3 M335.1,482.4 L337.8,485.3 M335.1,482.4 L333.6,486.2 M335.1,482.4 L329.8,484.4 M335.1,482.4 L328.1,481.0 M335.1,482.4 L329.4,477.4 M335.1,482.4 L333.0,475.3 M335.1,482.4 L337.3,475.8 M335.1,482.4 L340.2,478.6" fill="none" stroke="#111" stroke-width="1.14" stroke-linejoin="round" stroke-linecap="round" />
<ellipse cx="335.1" cy="482.4" rx="2.5" ry="2.1" transform="rotate(0 335.1 482.4)" fill="#111" stroke="#161616" stroke-width="0.00"/>
<ellipse cx="348.1" cy="481.6" rx="5.0" ry="6.9" transform="rotate(0 348.1 481.6)" fill="#fff" stroke="#0a0a0a" stroke-width="1.44"/>
<path d="M349.6,481.6 L352.6,483.5 M349.6,481.6 L350.7,487.1 M349.6,481.6 L347.5,488.1 M349.6,481.6 L344.6,486.1 M349.6,481.6 L343.4,481.9 M349.6,481.6 L344.3,477.6 M349.6,481.6 L347.0,475.2 M349.6,481.6 L350.3,475.8 M349.6,481.6 L352.5,479.1" fill="none" stroke="#111" stroke-width="1.14" stroke-linejoin="round" stroke-linecap="round" />
<ellipse cx="349.6" cy="481.6" rx="1.9" ry="2.5" transform="rotate(0 349.6 481.6)" fill="#111" stroke="#161616" stroke-width="0.00"/>
<polygon points="336.1,472.5 337.8,469.0 345.5,466.5 348.9,468.3 347.2,471.8 339.5,474.3" fill="#111" stroke="#0a0a0a" stroke-width="1.20" stroke-linejoin="round" />
<ellipse cx="338.5" cy="471.7" rx="1.3" ry="0.8" transform="rotate(-18 338.5 471.7)" fill="#fff" stroke="#161616" stroke-width="0.00"/>
<ellipse cx="342.5" cy="470.4" rx="1.8" ry="1.1" transform="rotate(-18 342.5 470.4)" fill="#fff" stroke="#161616" stroke-width="0.00"/>
<ellipse cx="346.5" cy="469.1" rx="1.3" ry="0.8" transform="rotate(-18 346.5 469.1)" fill="#fff" stroke="#161616" stroke-width="0.00"/>
<polygon points="331.0,492.1 332.7,488.6 340.4,486.1 343.8,487.9 342.1,491.4 334.4,493.9" fill="#111" stroke="#0a0a0a" stroke-width="1.20" stroke-linejoin="round" />
<ellipse cx="333.4" cy="491.3" rx="1.3" ry="0.8" transform="rotate(-18 333.4 491.3)" fill="#fff" stroke="#161616" stroke-width="0.00"/>
<ellipse cx="337.4" cy="490.0" rx="1.8" ry="1.1" transform="rotate(-18 337.4 490.0)" fill="#fff" stroke="#161616" stroke-width="0.00"/>
<ellipse cx="341.4" cy="488.7" rx="1.3" ry="0.8" transform="rotate(-18 341.4 488.7)" fill="#fff" stroke="#161616" stroke-width="0.00"/>
<ellipse cx="358.0" cy="469.4" rx="6.6" ry="5.8" transform="rotate(0 358.0 469.4)" fill="#fff" stroke="#0a0a0a" stroke-width="1.44"/>
<path d="M358.6,471.2 L363.9,471.0 M358.6,471.2 L361.4,474.1 M358.6,471.2 L357.2,474.9 M358.6,471.2 L353.4,473.2 M358.6,471.2 L351.7,469.7 M358.6,471.2 L353.0,466.1 M358.6,471.2 L356.6,464.0 M358.6,471.2 L360.8,464.5 M358.6,471.2 L363.7,467.3" fill="none" stroke="#111" stroke-width="1.14" stroke-linejoin="round" stroke-linecap="round" />
<ellipse cx="358.6" cy="471.2" rx="2.5" ry="2.1" transform="rotate(0 358.6 471.2)" fill="#111" stroke="#161616" stroke-width="0.00"/>
<ellipse cx="371.7" cy="470.3" rx="5.0" ry="6.9" transform="rotate(0 371.7 470.3)" fill="#fff" stroke="#0a0a0a" stroke-width="1.44"/>
<path d="M373.2,470.3 L376.2,472.3 M373.2,470.3 L374.2,475.8 M373.2,470.3 L371.1,476.8 M373.2,470.3 L368.2,474.8 M373.2,470.3 L366.9,470.6 M373.2,470.3 L367.9,466.4 M373.2,470.3 L370.6,463.9 M373.2,470.3 L373.8,464.5 M373.2,470.3 L376.0,467.8" fill="none" stroke="#111" stroke-width="1.14" stroke-linejoin="round" stroke-linecap="round" />
<ellipse cx="373.2" cy="470.3" rx="1.9" ry="2.5" transform="rotate(0 373.2 470.3)" fill="#111" stroke="#161616" stroke-width="0.00"/>
<polygon points="359.7,461.2 361.4,457.7 369.0,455.2 372.4,457.0 370.7,460.5 363.1,463.0" fill="#111" stroke="#0a0a0a" stroke-width="1.20" stroke-linejoin="round" />
<ellipse cx="362.1" cy="460.4" rx="1.3" ry="0.8" transform="rotate(-18 362.1 460.4)" fill="#fff" stroke="#161616" stroke-width="0.00"/>
<ellipse cx="366.1" cy="459.1" rx="1.8" ry="1.1" transform="rotate(-18 366.1 459.1)" fill="#fff" stroke="#161616" stroke-width="0.00"/>
<ellipse cx="370.0" cy="457.8" rx="1.3" ry="0.8" transform="rotate(-18 370.0 457.8)" fill="#fff" stroke="#161616" stroke-width="0.00"/>
<polygon points="354.6,480.8 356.3,477.3 363.9,474.8 367.3,476.6 365.6,480.1 358.0,482.6" fill="#111" stroke="#0a0a0a" stroke-width="1.20" stroke-linejoin="round" />
<ellipse cx="357.0" cy="480.0" rx="1.3" ry="0.8" transform="rotate(-18 357.0 480.0)" fill="#fff" stroke="#161616" stroke-width="0.00"/>
<ellipse cx="361.0" cy="478.7" rx="1.8" ry="1.1" transform="rotate(-18 361.0 478.7)" fill="#fff" stroke="#161616" stroke-width="0.00"/>
<ellipse cx="364.9" cy="477.4" rx="1.3" ry="0.8" transform="rotate(-18 364.9 477.4)" fill="#fff" stroke="#161616" stroke-width="0.00"/>
<ellipse cx="381.5" cy="458.1" rx="6.6" ry="5.8" transform="rotate(0 381.5 458.1)" fill="#fff" stroke="#0a0a0a" stroke-width="1.44"/>
<path d="M382.2,459.9 L387.5,459.8 M382.2,459.9 L384.9,462.8 M382.2,459.9 L380.7,463.6 M382.2,459.9 L376.9,461.9 M382.2,459.9 L375.3,458.4 M382.2,459.9 L376.5,454.8 M382.2,459.9 L380.1,452.8 M382.2,459.9 L384.4,453.2 M382.2,459.9 L387.3,456.0" fill="none" stroke="#111" stroke-width="1.14" stroke-linejoin="round" stroke-linecap="round" />
<ellipse cx="382.2" cy="459.9" rx="2.5" ry="2.1" transform="rotate(0 382.2 459.9)" fill="#111" stroke="#161616" stroke-width="0.00"/>
<ellipse cx="395.2" cy="459.0" rx="5.0" ry="6.9" transform="rotate(0 395.2 459.0)" fill="#fff" stroke="#0a0a0a" stroke-width="1.44"/>
<path d="M396.7,459.0 L399.8,461.0 M396.7,459.0 L397.8,464.5 M396.7,459.0 L394.6,465.5 M396.7,459.0 L391.7,463.5 M396.7,459.0 L390.5,459.4 M396.7,459.0 L391.4,455.1 M396.7,459.0 L394.2,452.6 M396.7,459.0 L397.4,453.2 M396.7,459.0 L399.6,456.5" fill="none" stroke="#111" stroke-width="1.14" stroke-linejoin="round" stroke-linecap="round" />
<ellipse cx="396.7" cy="459.0" rx="1.9" ry="2.5" transform="rotate(0 396.7 459.0)" fill="#111" stroke="#161616" stroke-width="0.00"/>
<polygon points="383.2,449.9 384.9,446.4 392.6,443.9 396.0,445.8 394.3,449.3 386.7,451.7" fill="#111" stroke="#0a0a0a" stroke-width="1.20" stroke-linejoin="round" />
<ellipse cx="385.7" cy="449.1" rx="1.3" ry="0.8" transform="rotate(-18 385.7 449.1)" fill="#fff" stroke="#161616" stroke-width="0.00"/>
<ellipse cx="389.6" cy="447.8" rx="1.8" ry="1.1" transform="rotate(-18 389.6 447.8)" fill="#fff" stroke="#161616" stroke-width="0.00"/>
<ellipse cx="393.6" cy="446.6" rx="1.3" ry="0.8" transform="rotate(-18 393.6 446.6)" fill="#fff" stroke="#161616" stroke-width="0.00"/>
<polygon points="378.1,469.5 379.8,466.0 387.5,463.5 390.9,465.4 389.2,468.9 381.6,471.3" fill="#111" stroke="#0a0a0a" stroke-width="1.20" stroke-linejoin="round" />
<ellipse cx="380.6" cy="468.7" rx="1.3" ry="0.8" transform="rotate(-18 380.6 468.7)" fill="#fff" stroke="#161616" stroke-width="0.00"/>
<ellipse cx="384.5" cy="467.4" rx="1.8" ry="1.1" transform="rotate(-18 384.5 467.4)" fill="#fff" stroke="#161616" stroke-width="0.00"/>
<ellipse cx="388.5" cy="466.2" rx="1.3" ry="0.8" transform="rotate(-18 388.5 466.2)" fill="#fff" stroke="#161616" stroke-width="0.00"/>
<ellipse cx="405.1" cy="446.9" rx="6.6" ry="5.8" transform="rotate(0 405.1 446.9)" fill="#fff" stroke="#0a0a0a" stroke-width="1.44"/>
<path d="M405.7,448.6 L411.1,448.5 M405.7,448.6 L408.5,451.5 M405.7,448.6 L404.3,452.3 M405.7,448.6 L400.5,450.6 M405.7,448.6 L398.8,447.1 M405.7,448.6 L400.1,443.5 M405.7,448.6 L403.7,441.5 M405.7,448.6 L407.9,442.0 M405.7,448.6 L410.9,444.7" fill="none" stroke="#111" stroke-width="1.14" stroke-linejoin="round" stroke-linecap="round" />
<ellipse cx="405.7" cy="448.6" rx="2.5" ry="2.1" transform="rotate(0 405.7 448.6)" fill="#111" stroke="#161616" stroke-width="0.00"/>
<ellipse cx="418.8" cy="447.8" rx="5.0" ry="6.9" transform="rotate(0 418.8 447.8)" fill="#fff" stroke="#0a0a0a" stroke-width="1.44"/>
<path d="M420.3,447.8 L423.3,449.7 M420.3,447.8 L421.4,453.3 M420.3,447.8 L418.2,454.3 M420.3,447.8 L415.3,452.2 M420.3,447.8 L414.0,448.1 M420.3,447.8 L415.0,443.8 M420.3,447.8 L417.7,441.4 M420.3,447.8 L421.0,441.9 M420.3,447.8 L423.2,445.2" fill="none" stroke="#111" stroke-width="1.14" stroke-linejoin="round" stroke-linecap="round" />
<ellipse cx="420.3" cy="447.8" rx="1.9" ry="2.5" transform="rotate(0 420.3 447.8)" fill="#111" stroke="#161616" stroke-width="0.00"/>
<polygon points="406.8,438.6 408.5,435.1 416.1,432.7 419.6,434.5 417.9,438.0 410.2,440.5" fill="#111" stroke="#0a0a0a" stroke-width="1.20" stroke-linejoin="round" />
<ellipse cx="409.2" cy="437.8" rx="1.3" ry="0.8" transform="rotate(-18 409.2 437.8)" fill="#fff" stroke="#161616" stroke-width="0.00"/>
<ellipse cx="413.2" cy="436.6" rx="1.8" ry="1.1" transform="rotate(-18 413.2 436.6)" fill="#fff" stroke="#161616" stroke-width="0.00"/>
<ellipse cx="417.1" cy="435.3" rx="1.3" ry="0.8" transform="rotate(-18 417.1 435.3)" fill="#fff" stroke="#161616" stroke-width="0.00"/>
<polygon points="401.7,458.2 403.4,454.7 411.0,452.3 414.5,454.1 412.8,457.6 405.1,460.1" fill="#111" stroke="#0a0a0a" stroke-width="1.20" stroke-linejoin="round" />
<ellipse cx="404.1" cy="457.4" rx="1.3" ry="0.8" transform="rotate(-18 404.1 457.4)" fill="#fff" stroke="#161616" stroke-width="0.00"/>
<ellipse cx="408.1" cy="456.2" rx="1.8" ry="1.1" transform="rotate(-18 408.1 456.2)" fill="#fff" stroke="#161616" stroke-width="0.00"/>
<ellipse cx="412.0" cy="454.9" rx="1.3" ry="0.8" transform="rotate(-18 412.0 454.9)" fill="#fff" stroke="#161616" stroke-width="0.00"/>
<ellipse cx="428.6" cy="435.6" rx="6.6" ry="5.8" transform="rotate(0 428.6 435.6)" fill="#fff" stroke="#0a0a0a" stroke-width="1.44"/>
<path d="M429.3,437.3 L434.6,437.2 M429.3,437.3 L432.0,440.2 M429.3,437.3 L427.9,441.0 M429.3,437.3 L424.0,439.3 M429.3,437.3 L422.4,435.9 M429.3,437.3 L423.6,432.2 M429.3,437.3 L427.2,430.2 M429.3,437.3 L431.5,430.7 M429.3,437.3 L434.4,433.4" fill="none" stroke="#111" stroke-width="1.14" stroke-linejoin="round" stroke-linecap="round" />
<ellipse cx="429.3" cy="437.3" rx="2.5" ry="2.1" transform="rotate(0 429.3 437.3)" fill="#111" stroke="#161616" stroke-width="0.00"/>
<ellipse cx="442.3" cy="436.5" rx="5.0" ry="6.9" transform="rotate(0 442.3 436.5)" fill="#fff" stroke="#0a0a0a" stroke-width="1.44"/>
<path d="M443.8,436.5 L446.9,438.4 M443.8,436.5 L444.9,442.0 M443.8,436.5 L441.7,443.0 M443.8,436.5 L438.9,440.9 M443.8,436.5 L437.6,436.8 M443.8,436.5 L438.6,432.5 M443.8,436.5 L441.3,430.1 M443.8,436.5 L444.5,430.6 M443.8,436.5 L446.7,433.9" fill="none" stroke="#111" stroke-width="1.14" stroke-linejoin="round" stroke-linecap="round" />
<ellipse cx="443.8" cy="436.5" rx="1.9" ry="2.5" transform="rotate(0 443.8 436.5)" fill="#111" stroke="#161616" stroke-width="0.00"/>
<polygon points="430.4,427.4 432.1,423.9 439.7,421.4 443.1,423.2 441.4,426.7 433.8,429.2" fill="#111" stroke="#0a0a0a" stroke-width="1.20" stroke-linejoin="round" />
<ellipse cx="432.8" cy="426.6" rx="1.3" ry="0.8" transform="rotate(-18 432.8 426.6)" fill="#fff" stroke="#161616" stroke-width="0.00"/>
<ellipse cx="436.7" cy="425.3" rx="1.8" ry="1.1" transform="rotate(-18 436.7 425.3)" fill="#fff" stroke="#161616" stroke-width="0.00"/>
<ellipse cx="440.7" cy="424.0" rx="1.3" ry="0.8" transform="rotate(-18 440.7 424.0)" fill="#fff" stroke="#161616" stroke-width="0.00"/>
<polygon points="425.3,447.0 427.0,443.5 434.6,441.0 438.0,442.8 436.3,446.3 428.7,448.8" fill="#111" stroke="#0a0a0a" stroke-width="1.20" stroke-linejoin="round" />
<ellipse cx="427.7" cy="446.2" rx="1.3" ry="0.8" transform="rotate(-18 427.7 446.2)" fill="#fff" stroke="#161616" stroke-width="0.00"/>
<ellipse cx="431.6" cy="444.9" rx="1.8" ry="1.1" transform="rotate(-18 431.6 444.9)" fill="#fff" stroke="#161616" stroke-width="0.00"/>
<ellipse cx="435.6" cy="443.6" rx="1.3" ry="0.8" transform="rotate(-18 435.6 443.6)" fill="#fff" stroke="#161616" stroke-width="0.00"/>
<ellipse cx="452.2" cy="424.3" rx="6.6" ry="5.8" transform="rotate(0 452.2 424.3)" fill="#fff" stroke="#0a0a0a" stroke-width="1.44"/>
<path d="M452.9,426.0 L458.2,425.9 M452.9,426.0 L455.6,428.9 M452.9,426.0 L451.4,429.8 M452.9,426.0 L447.6,428.0 M452.9,426.0 L445.9,424.6 M452.9,426.0 L447.2,421.0 M452.9,426.0 L450.8,418.9 M452.9,426.0 L455.1,419.4 M452.9,426.0 L458.0,422.2" fill="none" stroke="#111" stroke-width="1.14" stroke-linejoin="round" stroke-linecap="round" />
<ellipse cx="452.9" cy="426.0" rx="2.5" ry="2.1" transform="rotate(0 452.9 426.0)" fill="#111" stroke="#161616" stroke-width="0.00"/>
<ellipse cx="465.9" cy="425.2" rx="5.0" ry="6.9" transform="rotate(0 465.9 425.2)" fill="#fff" stroke="#0a0a0a" stroke-width="1.44"/>
<path d="M467.4,425.2 L470.4,427.1 M467.4,425.2 L468.5,430.7 M467.4,425.2 L465.3,431.7 M467.4,425.2 L462.4,429.7 M467.4,425.2 L461.2,425.5 M467.4,425.2 L462.1,421.2 M467.4,425.2 L464.8,418.8 M467.4,425.2 L468.1,419.4 M467.4,425.2 L470.3,422.7" fill="none" stroke="#111" stroke-width="1.14" stroke-linejoin="round" stroke-linecap="round" />
<ellipse cx="467.4" cy="425.2" rx="1.9" ry="2.5" transform="rotate(0 467.4 425.2)" fill="#111" stroke="#161616" stroke-width="0.00"/>
<polygon points="453.9,416.1 455.6,412.6 463.3,410.1 466.7,411.9 465.0,415.4 457.3,417.9" fill="#111" stroke="#0a0a0a" stroke-width="1.20" stroke-linejoin="round" />
<ellipse cx="456.3" cy="415.3" rx="1.3" ry="0.8" transform="rotate(-18 456.3 415.3)" fill="#fff" stroke="#161616" stroke-width="0.00"/>
<ellipse cx="460.3" cy="414.0" rx="1.8" ry="1.1" transform="rotate(-18 460.3 414.0)" fill="#fff" stroke="#161616" stroke-width="0.00"/>
<ellipse cx="464.3" cy="412.7" rx="1.3" ry="0.8" transform="rotate(-18 464.3 412.7)" fill="#fff" stroke="#161616" stroke-width="0.00"/>
<polygon points="448.8,435.7 450.5,432.2 458.2,429.7 461.6,431.5 459.9,435.0 452.2,437.5" fill="#111" stroke="#0a0a0a" stroke-width="1.20" stroke-linejoin="round" />
<ellipse cx="451.2" cy="434.9" rx="1.3" ry="0.8" transform="rotate(-18 451.2 434.9)" fill="#fff" stroke="#161616" stroke-width="0.00"/>
<ellipse cx="455.2" cy="433.6" rx="1.8" ry="1.1" transform="rotate(-18 455.2 433.6)" fill="#fff" stroke="#161616" stroke-width="0.00"/>
<ellipse cx="459.2" cy="432.3" rx="1.3" ry="0.8" transform="rotate(-18 459.2 432.3)" fill="#fff" stroke="#161616" stroke-width="0.00"/>
<ellipse cx="475.8" cy="413.0" rx="6.6" ry="5.8" transform="rotate(0 475.8 413.0)" fill="#fff" stroke="#0a0a0a" stroke-width="1.44"/>
<path d="M476.4,414.8 L481.7,414.6 M476.4,414.8 L479.2,417.7 M476.4,414.8 L475.0,418.5 M476.4,414.8 L471.2,416.8 M476.4,414.8 L469.5,413.3 M476.4,414.8 L470.8,409.7 M476.4,414.8 L474.4,407.6 M476.4,414.8 L478.6,408.1 M476.4,414.8 L481.5,410.9" fill="none" stroke="#111" stroke-width="1.14" stroke-linejoin="round" stroke-linecap="round" />
<ellipse cx="476.4" cy="414.8" rx="2.5" ry="2.1" transform="rotate(0 476.4 414.8)" fill="#111" stroke="#161616" stroke-width="0.00"/>
<ellipse cx="489.5" cy="413.9" rx="5.0" ry="6.9" transform="rotate(0 489.5 413.9)" fill="#fff" stroke="#0a0a0a" stroke-width="1.44"/>
<path d="M491.0,413.9 L494.0,415.9 M491.0,413.9 L492.0,419.4 M491.0,413.9 L488.9,420.4 M491.0,413.9 L486.0,418.4 M491.0,413.9 L484.7,414.2 M491.0,413.9 L485.7,410.0 M491.0,413.9 L488.4,407.5 M491.0,413.9 L491.6,408.1 M491.0,413.9 L493.8,411.4" fill="none" stroke="#111" stroke-width="1.14" stroke-linejoin="round" stroke-linecap="round" />
<ellipse cx="491.0" cy="413.9" rx="1.9" ry="2.5" transform="rotate(0 491.0 413.9)" fill="#111" stroke="#161616" stroke-width="0.00"/>
<polygon points="477.5,404.8 479.2,401.3 486.8,398.8 490.2,400.6 488.5,404.1 480.9,406.6" fill="#111" stroke="#0a0a0a" stroke-width="1.20" stroke-linejoin="round" />
<ellipse cx="479.9" cy="404.0" rx="1.3" ry="0.8" transform="rotate(-18 479.9 404.0)" fill="#fff" stroke="#161616" stroke-width="0.00"/>
<ellipse cx="483.9" cy="402.7" rx="1.8" ry="1.1" transform="rotate(-18 483.9 402.7)" fill="#fff" stroke="#161616" stroke-width="0.00"/>
<ellipse cx="487.8" cy="401.4" rx="1.3" ry="0.8" transform="rotate(-18 487.8 401.4)" fill="#fff" stroke="#161616" stroke-width="0.00"/>
<polygon points="472.4,424.4 474.1,420.9 481.7,418.4 485.1,420.2 483.4,423.7 475.8,426.2" fill="#111" stroke="#0a0a0a" stroke-width="1.20" stroke-linejoin="round" />
<ellipse cx="474.8" cy="423.6" rx="1.3" ry="0.8" transform="rotate(-18 474.8 423.6)" fill="#fff" stroke="#161616" stroke-width="0.00"/>
<ellipse cx="478.8" cy="422.3" rx="1.8" ry="1.1" transform="rotate(-18 478.8 422.3)" fill="#fff" stroke="#161616" stroke-width="0.00"/>
<ellipse cx="482.7" cy="421.0" rx="1.3" ry="0.8" transform="rotate(-18 482.7 421.0)" fill="#fff" stroke="#161616" stroke-width="0.00"/>
<ellipse cx="499.3" cy="401.7" rx="6.6" ry="5.8" transform="rotate(0 499.3 401.7)" fill="#fff" stroke="#0a0a0a" stroke-width="1.44"/>
<path d="M500.0,403.5 L505.3,403.4 M500.0,403.5 L502.7,406.4 M500.0,403.5 L498.5,407.2 M500.0,403.5 L494.7,405.5 M500.0,403.5 L493.1,402.0 M500.0,403.5 L494.3,398.4 M500.0,403.5 L497.9,396.4 M500.0,403.5 L502.2,396.8 M500.0,403.5 L505.1,399.6" fill="none" stroke="#111" stroke-width="1.14" stroke-linejoin="round" stroke-linecap="round" />
<ellipse cx="500.0" cy="403.5" rx="2.5" ry="2.1" transform="rotate(0 500.0 403.5)" fill="#111" stroke="#161616" stroke-width="0.00"/>
<ellipse cx="513.0" cy="402.6" rx="5.0" ry="6.9" transform="rotate(0 513.0 402.6)" fill="#fff" stroke="#0a0a0a" stroke-width="1.44"/>
<path d="M514.5,402.6 L517.6,404.6 M514.5,402.6 L515.6,408.1 M514.5,402.6 L512.4,409.1 M514.5,402.6 L509.5,407.1 M514.5,402.6 L508.3,403.0 M514.5,402.6 L509.2,398.7 M514.5,402.6 L512.0,396.2 M514.5,402.6 L515.2,396.8 M514.5,402.6 L517.4,400.1" fill="none" stroke="#111" stroke-width="1.14" stroke-linejoin="round" stroke-linecap="round" />
<ellipse cx="514.5" cy="402.6" rx="1.9" ry="2.5" transform="rotate(0 514.5 402.6)" fill="#111" stroke="#161616" stroke-width="0.00"/>
<polygon points="501.0,393.5 502.7,390.0 510.4,387.5 513.8,389.4 512.1,392.9 504.5,395.3" fill="#111" stroke="#0a0a0a" stroke-width="1.20" stroke-linejoin="round" />
<ellipse cx="503.5" cy="392.7" rx="1.3" ry="0.8" transform="rotate(-18 503.5 392.7)" fill="#fff" stroke="#161616" stroke-width="0.00"/>
<ellipse cx="507.4" cy="391.4" rx="1.8" ry="1.1" transform="rotate(-18 507.4 391.4)" fill="#fff" stroke="#161616" stroke-width="0.00"/>
<ellipse cx="511.4" cy="390.2" rx="1.3" ry="0.8" transform="rotate(-18 511.4 390.2)" fill="#fff" stroke="#161616" stroke-width="0.00"/>
<polygon points="495.9,413.1 497.6,409.6 505.3,407.1 508.7,409.0 507.0,412.5 499.4,414.9" fill="#111" stroke="#0a0a0a" stroke-width="1.20" stroke-linejoin="round" />
<ellipse cx="498.4" cy="412.3" rx="1.3" ry="0.8" transform="rotate(-18 498.4 412.3)" fill="#fff" stroke="#161616" stroke-width="0.00"/>
<ellipse cx="502.3" cy="411.0" rx="1.8" ry="1.1" transform="rotate(-18 502.3 411.0)" fill="#fff" stroke="#161616" stroke-width="0.00"/>
<ellipse cx="506.3" cy="409.8" rx="1.3" ry="0.8" transform="rotate(-18 506.3 409.8)" fill="#fff" stroke="#161616" stroke-width="0.00"/>
<line x1="542.0" y1="413.7" x2="542.0" y2="403.2" stroke="#161616" stroke-width="1.32" />
<polygon points="542.0,397.2 544.7,404.2 539.3,404.2" fill="#161616" stroke="#161616" stroke-width="0.36" stroke-linejoin="round" />
<circle cx="549.7" cy="418.0" r="7.9" fill="#fff" stroke="#161616" stroke-width="1.38"/>
<text transform="translate(549.7,423.0) scale(1.2,1)" x="0" y="0" font-size="15" font-family="'Liberation Serif', serif" fill="#111" stroke="#111" stroke-width="0.2" text-anchor="middle">9</text>
<g transform="translate(0,0)">
<line x1="150.6" y1="28.5" x2="160.0" y2="28.5" stroke="#111" stroke-width="1.44" />
<line x1="150.6" y1="43.0" x2="160.0" y2="43.0" stroke="#111" stroke-width="1.68" />
<line x1="236.4" y1="27.6" x2="249.4" y2="27.6" stroke="#111" stroke-width="1.32" />
<line x1="236.4" y1="44.4" x2="249.4" y2="44.4" stroke="#111" stroke-width="1.80" />
<polygon points="229.2,15.6 232.6,15.6 237.7,18.3 237.7,27.3 236.4,27.3 236.4,44.4 237.7,44.4 237.7,52.2 236.0,55.6 229.2,55.6" fill="#fff" stroke="#161616" stroke-width="1.32" stroke-linejoin="round" />
<polygon points="161.6,16.8 229.2,15.5 229.2,54.6 161.6,53.8" fill="#fff" stroke="#111" stroke-width="1.20" stroke-linejoin="round" />
<polygon points="159.3,24.4 227.0,23.6 227.0,44.6 159.3,44.4" fill="#fff" stroke="#111" stroke-width="1.20" stroke-linejoin="round" />
<polygon points="161.6,16.8 169.1,16.7 169.1,24.0 161.6,24.1" fill="#fff" stroke="#111" stroke-width="1.14" stroke-linejoin="round" />
<ellipse cx="165.65" cy="19.42" rx="2.1" ry="2.2" fill="#080808"/>
<polygon points="161.6,44.6 169.1,44.6 169.1,53.9 161.6,53.8" fill="#fff" stroke="#111" stroke-width="1.14" stroke-linejoin="round" />
<path d="M163.35,52.45 L163.35,50.04 A2.3,2.6 0 0 1 167.95,50.04 L167.95,52.45 Z" fill="#080808"/>
<polygon points="159.3,24.5 166.8,24.4 166.8,30.0 159.3,30.0" fill="#fff" stroke="#111" stroke-width="1.14" stroke-linejoin="round" />
<polygon points="159.3,37.8 166.8,37.8 166.8,44.4 159.3,44.4" fill="#fff" stroke="#111" stroke-width="1.14" stroke-linejoin="round" />
<polygon points="169.1,16.7 176.6,16.5 176.6,23.9 169.1,24.0" fill="#fff" stroke="#111" stroke-width="1.14" stroke-linejoin="round" />
<ellipse cx="173.15" cy="19.30" rx="2.1" ry="2.2" fill="#080808"/>
<polygon points="169.1,44.6 176.6,44.7 176.6,54.0 169.1,53.9" fill="#fff" stroke="#111" stroke-width="1.14" stroke-linejoin="round" />
<path d="M170.85,52.52 L170.85,50.10 A2.3,2.6 0 0 1 175.45,50.10 L175.45,52.52 Z" fill="#080808"/>
<polygon points="166.8,24.4 174.3,24.3 174.3,29.9 166.8,30.0" fill="#fff" stroke="#111" stroke-width="1.14" stroke-linejoin="round" />
<polygon points="166.8,37.8 174.3,37.8 174.3,44.4 166.8,44.4" fill="#fff" stroke="#111" stroke-width="1.14" stroke-linejoin="round" />
<polygon points="176.6,16.5 184.1,16.4 184.1,23.8 176.6,23.9" fill="#fff" stroke="#111" stroke-width="1.14" stroke-linejoin="round" />
<ellipse cx="180.65" cy="19.18" rx="2.1" ry="2.2" fill="#080808"/>
<polygon points="176.6,44.7 184.1,44.7 184.1,54.1 176.6,54.0" fill="#fff" stroke="#111" stroke-width="1.14" stroke-linejoin="round" />
<path d="M178.35,52.60 L178.35,50.16 A2.3,2.6 0 0 1 182.95,50.16 L182.95,52.60 Z" fill="#080808"/>
<polygon points="174.3,24.3 181.8,24.2 181.8,29.8 174.3,29.9" fill="#fff" stroke="#111" stroke-width="1.14" stroke-linejoin="round" />
<polygon points="174.3,37.8 181.8,37.8 181.8,44.5 174.3,44.4" fill="#fff" stroke="#111" stroke-width="1.14" stroke-linejoin="round" />
<polygon points="184.1,16.4 191.6,16.2 191.6,23.7 184.1,23.8" fill="#fff" stroke="#111" stroke-width="1.14" stroke-linejoin="round" />
<ellipse cx="188.15" cy="19.06" rx="2.1" ry="2.2" fill="#080808"/>
<polygon points="184.1,44.7 191.6,44.7 191.6,54.1 184.1,54.1" fill="#fff" stroke="#111" stroke-width="1.14" stroke-linejoin="round" />
<path d="M185.85,52.67 L185.85,50.22 A2.3,2.6 0 0 1 190.45,50.22 L190.45,52.67 Z" fill="#080808"/>
<polygon points="181.8,24.2 189.3,24.2 189.3,29.8 181.8,29.8" fill="#fff" stroke="#111" stroke-width="1.14" stroke-linejoin="round" />
<polygon points="181.8,37.8 189.3,37.8 189.3,44.5 181.8,44.5" fill="#fff" stroke="#111" stroke-width="1.14" stroke-linejoin="round" />
<polygon points="191.6,16.2 199.1,16.1 199.1,23.6 191.6,23.7" fill="#fff" stroke="#111" stroke-width="1.14" stroke-linejoin="round" />
<ellipse cx="195.65" cy="18.94" rx="2.1" ry="2.2" fill="#080808"/>
<polygon points="191.6,44.7 199.1,44.7 199.1,54.2 191.6,54.1" fill="#fff" stroke="#111" stroke-width="1.14" stroke-linejoin="round" />
<path d="M193.35,52.75 L193.35,50.28 A2.3,2.6 0 0 1 197.95,50.28 L197.95,52.75 Z" fill="#080808"/>
<polygon points="189.3,24.2 196.8,24.1 196.8,29.7 189.3,29.8" fill="#fff" stroke="#111" stroke-width="1.14" stroke-linejoin="round" />
<polygon points="189.3,37.8 196.8,37.7 196.8,44.5 189.3,44.5" fill="#fff" stroke="#111" stroke-width="1.14" stroke-linejoin="round" />
<polygon points="199.1,16.1 206.6,16.0 206.6,23.5 199.1,23.6" fill="#fff" stroke="#111" stroke-width="1.14" stroke-linejoin="round" />
<ellipse cx="203.15" cy="18.82" rx="2.1" ry="2.2" fill="#080808"/>
<polygon points="199.1,44.7 206.6,44.8 206.6,54.3 199.1,54.2" fill="#fff" stroke="#111" stroke-width="1.14" stroke-linejoin="round" />
<path d="M200.85,52.82 L200.85,50.34 A2.3,2.6 0 0 1 205.45,50.34 L205.45,52.82 Z" fill="#080808"/>
<polygon points="196.8,24.1 204.3,24.0 204.3,29.7 196.8,29.7" fill="#fff" stroke="#111" stroke-width="1.14" stroke-linejoin="round" />
<polygon points="196.8,37.7 204.3,37.7 204.3,44.6 196.8,44.5" fill="#fff" stroke="#111" stroke-width="1.14" stroke-linejoin="round" />
<polygon points="206.6,16.0 214.1,15.8 214.1,23.4 206.6,23.5" fill="#fff" stroke="#111" stroke-width="1.14" stroke-linejoin="round" />
<ellipse cx="210.65" cy="18.69" rx="2.1" ry="2.2" fill="#080808"/>
<polygon points="206.6,44.8 214.1,44.8 214.1,54.4 206.6,54.3" fill="#fff" stroke="#111" stroke-width="1.14" stroke-linejoin="round" />
<path d="M208.35,52.90 L208.35,50.40 A2.3,2.6 0 0 1 212.95,50.40 L212.95,52.90 Z" fill="#080808"/>
<polygon points="204.3,24.0 211.8,23.9 211.8,29.6 204.3,29.7" fill="#fff" stroke="#111" stroke-width="1.14" stroke-linejoin="round" />
<polygon points="204.3,37.7 211.8,37.7 211.8,44.6 204.3,44.6" fill="#fff" stroke="#111" stroke-width="1.14" stroke-linejoin="round" />
<polygon points="214.1,15.8 221.6,15.7 221.6,23.3 214.1,23.4" fill="#fff" stroke="#111" stroke-width="1.14" stroke-linejoin="round" />
<ellipse cx="218.15" cy="18.57" rx="2.1" ry="2.2" fill="#080808"/>
<polygon points="214.1,44.8 221.6,44.8 221.6,54.5 214.1,54.4" fill="#fff" stroke="#111" stroke-width="1.14" stroke-linejoin="round" />
<path d="M215.85,52.97 L215.85,50.46 A2.3,2.6 0 0 1 220.45,50.46 L220.45,52.97 Z" fill="#080808"/>
<polygon points="211.8,23.9 219.3,23.8 219.3,29.5 211.8,29.6" fill="#fff" stroke="#111" stroke-width="1.14" stroke-linejoin="round" />
<polygon points="211.8,37.7 219.3,37.7 219.3,44.6 211.8,44.6" fill="#fff" stroke="#111" stroke-width="1.14" stroke-linejoin="round" />
<polygon points="221.6,15.7 229.1,15.5 229.1,23.2 221.6,23.3" fill="#fff" stroke="#111" stroke-width="1.14" stroke-linejoin="round" />
<ellipse cx="225.65" cy="18.45" rx="2.1" ry="2.2" fill="#080808"/>
<polygon points="221.6,44.8 229.1,44.9 229.1,54.6 221.6,54.5" fill="#fff" stroke="#111" stroke-width="1.14" stroke-linejoin="round" />
<path d="M223.35,53.05 L223.35,50.52 A2.3,2.6 0 0 1 227.95,50.52 L227.95,53.05 Z" fill="#080808"/>
<polygon points="219.3,23.8 226.8,23.7 226.8,29.5 219.3,29.5" fill="#fff" stroke="#111" stroke-width="1.14" stroke-linejoin="round" />
<polygon points="219.3,37.7 226.8,37.7 226.8,44.6 219.3,44.6" fill="#fff" stroke="#111" stroke-width="1.14" stroke-linejoin="round" />
<polygon points="159.0,29.7 227.0,29.2 227.0,37.9 159.0,38.0" fill="#050505" stroke="#050505" stroke-width="0.60" stroke-linejoin="round" />
<path d="M186.4,34.8 Q184.4,35 183.2,37.4 L179,47 L175.5,55 L173,62 Q171.6,65.2 170,66 Q168.4,67.2 167,66.4 Q164,66.6 162,67.5 Q160,68.2 158.5,70 L183.4,88 L182.5,75 L183,66 L184.5,60 L186.5,53 L188,45 L189.6,38.4 Q189.6,35 186.4,34.8 Z" fill="#fff" stroke="none" stroke-width="0.00" stroke-linejoin="round" stroke-linecap="round" />
<path d="M158.5,70.2 Q160,68.2 162,67.5 Q164,66.6 167,66.6 Q168.4,67.2 170,66 Q171.6,65.2 173,62 L175.5,55 L179,47 L183.2,37.4 Q184.4,35 186.4,34.8 Q189.6,35 189.6,38.4 L188,45 L186.5,53 L184.5,60 L183,66 L182.5,75 L183.5,87" fill="none" stroke="#111" stroke-width="1.38" stroke-linejoin="round" stroke-linecap="round" />
<path d="M183,65.2 Q188,66.6 191,70.4 Q192.4,72.6 190,78 Q187.6,82.6 183.5,87" fill="none" stroke="#111" stroke-width="1.32" stroke-linejoin="round" stroke-linecap="round" />
<path d="M190,78 Q194,80.6 197,85.4" fill="none" stroke="#111" stroke-width="1.32" stroke-linejoin="round" stroke-linecap="round" />
<path d="M183.5,74 L190,73" fill="none" stroke="#111" stroke-width="1.20" stroke-linejoin="round" stroke-linecap="round" />
<ellipse cx="186.4" cy="37.2" rx="1.4" ry="2.5" transform="rotate(35 186.4 37.2)" fill="#ccc" stroke="#222" stroke-width="0.84"/>
</g>
<g transform="translate(326.4,579.7)">
<line x1="150.6" y1="28.5" x2="160.0" y2="28.5" stroke="#111" stroke-width="1.44" />
<line x1="150.6" y1="43.0" x2="160.0" y2="43.0" stroke="#111" stroke-width="1.68" />
<line x1="236.4" y1="27.6" x2="249.4" y2="27.6" stroke="#111" stroke-width="1.32" />
<line x1="236.4" y1="44.4" x2="249.4" y2="44.4" stroke="#111" stroke-width="1.80" />
<polygon points="229.2,15.6 232.6,15.6 237.7,18.3 237.7,27.3 236.4,27.3 236.4,44.4 237.7,44.4 237.7,52.2 236.0,55.6 229.2,55.6" fill="#fff" stroke="#161616" stroke-width="1.32" stroke-linejoin="round" />
<polygon points="161.6,16.8 229.2,15.5 229.2,54.6 161.6,53.8" fill="#fff" stroke="#111" stroke-width="1.20" stroke-linejoin="round" />
<polygon points="159.3,24.4 227.0,23.6 227.0,44.6 159.3,44.4" fill="#fff" stroke="#111" stroke-width="1.20" stroke-linejoin="round" />
<polygon points="161.6,16.8 169.1,16.7 169.1,24.0 161.6,24.1" fill="#fff" stroke="#111" stroke-width="1.14" stroke-linejoin="round" />
<ellipse cx="165.65" cy="19.42" rx="2.1" ry="2.2" fill="#080808"/>
<polygon points="161.6,44.6 169.1,44.6 169.1,53.9 161.6,53.8" fill="#fff" stroke="#111" stroke-width="1.14" stroke-linejoin="round" />
<path d="M163.35,52.45 L163.35,50.04 A2.3,2.6 0 0 1 167.95,50.04 L167.95,52.45 Z" fill="#080808"/>
<polygon points="159.3,24.5 166.8,24.4 166.8,30.0 159.3,30.0" fill="#fff" stroke="#111" stroke-width="1.14" stroke-linejoin="round" />
<polygon points="159.3,37.8 166.8,37.8 166.8,44.4 159.3,44.4" fill="#fff" stroke="#111" stroke-width="1.14" stroke-linejoin="round" />
<polygon points="169.1,16.7 176.6,16.5 176.6,23.9 169.1,24.0" fill="#fff" stroke="#111" stroke-width="1.14" stroke-linejoin="round" />
<ellipse cx="173.15" cy="19.30" rx="2.1" ry="2.2" fill="#080808"/>
<polygon points="169.1,44.6 176.6,44.7 176.6,54.0 169.1,53.9" fill="#fff" stroke="#111" stroke-width="1.14" stroke-linejoin="round" />
<path d="M170.85,52.52 L170.85,50.10 A2.3,2.6 0 0 1 175.45,50.10 L175.45,52.52 Z" fill="#080808"/>
<polygon points="166.8,24.4 174.3,24.3 174.3,29.9 166.8,30.0" fill="#fff" stroke="#111" stroke-width="1.14" stroke-linejoin="round" />
<polygon points="166.8,37.8 174.3,37.8 174.3,44.4 166.8,44.4" fill="#fff" stroke="#111" stroke-width="1.14" stroke-linejoin="round" />
<polygon points="176.6,16.5 184.1,16.4 184.1,23.8 176.6,23.9" fill="#fff" stroke="#111" stroke-width="1.14" stroke-linejoin="round" />
<ellipse cx="180.65" cy="19.18" rx="2.1" ry="2.2" fill="#080808"/>
<polygon points="176.6,44.7 184.1,44.7 184.1,54.1 176.6,54.0" fill="#fff" stroke="#111" stroke-width="1.14" stroke-linejoin="round" />
<path d="M178.35,52.60 L178.35,50.16 A2.3,2.6 0 0 1 182.95,50.16 L182.95,52.60 Z" fill="#080808"/>
<polygon points="174.3,24.3 181.8,24.2 181.8,29.8 174.3,29.9" fill="#fff" stroke="#111" stroke-width="1.14" stroke-linejoin="round" />
<polygon points="174.3,37.8 181.8,37.8 181.8,44.5 174.3,44.4" fill="#fff" stroke="#111" stroke-width="1.14" stroke-linejoin="round" />
<polygon points="184.1,16.4 191.6,16.2 191.6,23.7 184.1,23.8" fill="#fff" stroke="#111" stroke-width="1.14" stroke-linejoin="round" />
<ellipse cx="188.15" cy="19.06" rx="2.1" ry="2.2" fill="#080808"/>
<polygon points="184.1,44.7 191.6,44.7 191.6,54.1 184.1,54.1" fill="#fff" stroke="#111" stroke-width="1.14" stroke-linejoin="round" />
<path d="M185.85,52.67 L185.85,50.22 A2.3,2.6 0 0 1 190.45,50.22 L190.45,52.67 Z" fill="#080808"/>
<polygon points="181.8,24.2 189.3,24.2 189.3,29.8 181.8,29.8" fill="#fff" stroke="#111" stroke-width="1.14" stroke-linejoin="round" />
<polygon points="181.8,37.8 189.3,37.8 189.3,44.5 181.8,44.5" fill="#fff" stroke="#111" stroke-width="1.14" stroke-linejoin="round" />
<polygon points="191.6,16.2 199.1,16.1 199.1,23.6 191.6,23.7" fill="#fff" stroke="#111" stroke-width="1.14" stroke-linejoin="round" />
<ellipse cx="195.65" cy="18.94" rx="2.1" ry="2.2" fill="#080808"/>
<polygon points="191.6,44.7 199.1,44.7 199.1,54.2 191.6,54.1" fill="#fff" stroke="#111" stroke-width="1.14" stroke-linejoin="round" />
<path d="M193.35,52.75 L193.35,50.28 A2.3,2.6 0 0 1 197.95,50.28 L197.95,52.75 Z" fill="#080808"/>
<polygon points="189.3,24.2 196.8,24.1 196.8,29.7 189.3,29.8" fill="#fff" stroke="#111" stroke-width="1.14" stroke-linejoin="round" />
<polygon points="189.3,37.8 196.8,37.7 196.8,44.5 189.3,44.5" fill="#fff" stroke="#111" stroke-width="1.14" stroke-linejoin="round" />
<polygon points="199.1,16.1 206.6,16.0 206.6,23.5 199.1,23.6" fill="#fff" stroke="#111" stroke-width="1.14" stroke-linejoin="round" />
<ellipse cx="203.15" cy="18.82" rx="2.1" ry="2.2" fill="#080808"/>
<polygon points="199.1,44.7 206.6,44.8 206.6,54.3 199.1,54.2" fill="#fff" stroke="#111" stroke-width="1.14" stroke-linejoin="round" />
<path d="M200.85,52.82 L200.85,50.34 A2.3,2.6 0 0 1 205.45,50.34 L205.45,52.82 Z" fill="#080808"/>
<polygon points="196.8,24.1 204.3,24.0 204.3,29.7 196.8,29.7" fill="#fff" stroke="#111" stroke-width="1.14" stroke-linejoin="round" />
<polygon points="196.8,37.7 204.3,37.7 204.3,44.6 196.8,44.5" fill="#fff" stroke="#111" stroke-width="1.14" stroke-linejoin="round" />
<polygon points="206.6,16.0 214.1,15.8 214.1,23.4 206.6,23.5" fill="#fff" stroke="#111" stroke-width="1.14" stroke-linejoin="round" />
<ellipse cx="210.65" cy="18.69" rx="2.1" ry="2.2" fill="#080808"/>
<polygon points="206.6,44.8 214.1,44.8 214.1,54.4 206.6,54.3" fill="#fff" stroke="#111" stroke-width="1.14" stroke-linejoin="round" />
<path d="M208.35,52.90 L208.35,50.40 A2.3,2.6 0 0 1 212.95,50.40 L212.95,52.90 Z" fill="#080808"/>
<polygon points="204.3,24.0 211.8,23.9 211.8,29.6 204.3,29.7" fill="#fff" stroke="#111" stroke-width="1.14" stroke-linejoin="round" />
<polygon points="204.3,37.7 211.8,37.7 211.8,44.6 204.3,44.6" fill="#fff" stroke="#111" stroke-width="1.14" stroke-linejoin="round" />
<polygon points="214.1,15.8 221.6,15.7 221.6,23.3 214.1,23.4" fill="#fff" stroke="#111" stroke-width="1.14" stroke-linejoin="round" />
<ellipse cx="218.15" cy="18.57" rx="2.1" ry="2.2" fill="#080808"/>
<polygon points="214.1,44.8 221.6,44.8 221.6,54.5 214.1,54.4" fill="#fff" stroke="#111" stroke-width="1.14" stroke-linejoin="round" />
<path d="M215.85,52.97 L215.85,50.46 A2.3,2.6 0 0 1 220.45,50.46 L220.45,52.97 Z" fill="#080808"/>
<polygon points="211.8,23.9 219.3,23.8 219.3,29.5 211.8,29.6" fill="#fff" stroke="#111" stroke-width="1.14" stroke-linejoin="round" />
<polygon points="211.8,37.7 219.3,37.7 219.3,44.6 211.8,44.6" fill="#fff" stroke="#111" stroke-width="1.14" stroke-linejoin="round" />
<polygon points="221.6,15.7 229.1,15.5 229.1,23.2 221.6,23.3" fill="#fff" stroke="#111" stroke-width="1.14" stroke-linejoin="round" />
<ellipse cx="225.65" cy="18.45" rx="2.1" ry="2.2" fill="#080808"/>
<polygon points="221.6,44.8 229.1,44.9 229.1,54.6 221.6,54.5" fill="#fff" stroke="#111" stroke-width="1.14" stroke-linejoin="round" />
<path d="M223.35,53.05 L223.35,50.52 A2.3,2.6 0 0 1 227.95,50.52 L227.95,53.05 Z" fill="#080808"/>
<polygon points="219.3,23.8 226.8,23.7 226.8,29.5 219.3,29.5" fill="#fff" stroke="#111" stroke-width="1.14" stroke-linejoin="round" />
<polygon points="219.3,37.7 226.8,37.7 226.8,44.6 219.3,44.6" fill="#fff" stroke="#111" stroke-width="1.14" stroke-linejoin="round" />
<polygon points="159.0,29.7 227.0,29.2 227.0,37.9 159.0,38.0" fill="#050505" stroke="#050505" stroke-width="0.60" stroke-linejoin="round" />
<path d="M186.4,34.8 Q184.4,35 183.2,37.4 L179,47 L175.5,55 L173,62 Q171.6,65.2 170,66 Q168.4,67.2 167,66.4 Q164,66.6 162,67.5 Q160,68.2 158.5,70 L183.4,88 L182.5,75 L183,66 L184.5,60 L186.5,53 L188,45 L189.6,38.4 Q189.6,35 186.4,34.8 Z" fill="#fff" stroke="none" stroke-width="0.00" stroke-linejoin="round" stroke-linecap="round" />
<path d="M158.5,70.2 Q160,68.2 162,67.5 Q164,66.6 167,66.6 Q168.4,67.2 170,66 Q171.6,65.2 173,62 L175.5,55 L179,47 L183.2,37.4 Q184.4,35 186.4,34.8 Q189.6,35 189.6,38.4 L188,45 L186.5,53 L184.5,60 L183,66 L182.5,75 L183.5,87" fill="none" stroke="#111" stroke-width="1.38" stroke-linejoin="round" stroke-linecap="round" />
<path d="M183,65.2 Q188,66.6 191,70.4 Q192.4,72.6 190,78 Q187.6,82.6 183.5,87" fill="none" stroke="#111" stroke-width="1.32" stroke-linejoin="round" stroke-linecap="round" />
<path d="M190,78 Q194,80.6 197,85.4" fill="none" stroke="#111" stroke-width="1.32" stroke-linejoin="round" stroke-linecap="round" />
<path d="M183.5,74 L190,73" fill="none" stroke="#111" stroke-width="1.20" stroke-linejoin="round" stroke-linecap="round" />
<ellipse cx="186.4" cy="37.2" rx="1.4" ry="2.5" transform="rotate(35 186.4 37.2)" fill="#ccc" stroke="#222" stroke-width="0.84"/>
</g>
<path d="M137.2,22.2 Q131.6,29.6 132.2,37.6 Q132.8,44 136.2,49.6" fill="none" stroke="#111" stroke-width="1.44" stroke-linejoin="round" stroke-linecap="round" />
<polygon points="138.8,55.4 132.6,47.6 137.8,46.0" fill="#111" stroke="#161616" stroke-width="0.48" stroke-linejoin="round" />
<text x="115" y="75.7" font-family="'Liberation Sans', sans-serif" font-size="16" fill="#1e1e1e" stroke="#fff" stroke-width="0.15" textLength="31.4" lengthAdjust="spacingAndGlyphs">OFF</text>
<path d="M461.4,637.2 Q457.2,626.6 458.8,617.6 Q460.2,611.6 463.8,607.4" fill="none" stroke="#111" stroke-width="1.44" stroke-linejoin="round" stroke-linecap="round" />
<polygon points="468.0,602.0 466.2,611.4 460.8,607.6" fill="#111" stroke="#161616" stroke-width="0.48" stroke-linejoin="round" />
<text x="448.6" y="655.7" font-family="'Liberation Sans', sans-serif" font-size="16" fill="#1e1e1e" stroke="#fff" stroke-width="0.15" textLength="20.6" lengthAdjust="spacingAndGlyphs">ON</text>
<circle cx="212.9" cy="118.6" r="7.9" fill="#fff" stroke="#161616" stroke-width="1.38"/>
<text transform="translate(212.9,123.6) scale(1.2,1)" x="0" y="0" font-size="15" font-family="'Liberation Serif', serif" fill="#111" stroke="#111" stroke-width="0.2" text-anchor="middle">4</text>
<polygon points="147.1,130.7 157.1,131.4 159.6,135.0 155.9,136.6 158.6,139.3 166.4,140.7 165.7,143.2 158.8,181.4 155.7,184.4 148.6,183.6 138.6,175.2" fill="#fff" stroke="#111" stroke-width="1.68" stroke-linejoin="round" />
<polyline points="154.3,136.6 143.8,177.2 148.6,183.6" fill="none" stroke="#161616" stroke-width="1.32" stroke-linejoin="round" />
<polyline points="159.2,143.0 150.7,180.0" fill="none" stroke="#161616" stroke-width="1.32" stroke-linejoin="round" />
<polyline points="157.1,131.4 154.3,136.6" fill="none" stroke="#161616" stroke-width="1.20" stroke-linejoin="round" />
<polyline points="159.2,143.0 165.7,143.2" fill="none" stroke="#161616" stroke-width="1.20" stroke-linejoin="round" />
<polyline points="143.8,177.2 150.7,180.0 155.7,184.4" fill="none" stroke="#161616" stroke-width="1.20" stroke-linejoin="round" />
<path d="M156.5,126.4 Q167,127 172,135.5" fill="none" stroke="#161616" stroke-width="1.32" stroke-linejoin="round" stroke-linecap="round" />
<polygon points="153.4,125.6 159.7,124.2 159.0,128.7" fill="#161616" stroke="#161616" stroke-width="0.36" stroke-linejoin="round" />
<polygon points="173.8,138.6 168.6,134.0 172.9,131.7" fill="#161616" stroke="#161616" stroke-width="0.36" stroke-linejoin="round" />
<circle cx="147.6" cy="122.2" r="4.4" fill="#fff" stroke="#222" stroke-width="1.56"/>
<circle cx="147.6" cy="122.2" r="2.5" fill="none" stroke="#555" stroke-width="0.84"/>
<text x="147.6" y="124.6" font-size="7" font-family="'Liberation Sans', sans-serif" font-weight="bold" fill="#222" text-anchor="middle">a</text>
<circle cx="179.1" cy="128.6" r="4.4" fill="#fff" stroke="#222" stroke-width="1.56"/>
<circle cx="179.1" cy="128.6" r="2.5" fill="none" stroke="#555" stroke-width="0.84"/>
<text x="179.1" y="131.0" font-size="7" font-family="'Liberation Sans', sans-serif" font-weight="bold" fill="#222" text-anchor="middle">d</text>
<rect x="186.4" y="124.6" width="5.6" height="20.4" fill="#444" stroke="#222" stroke-width="0.6"/>
<path d="M194.4,141 L194.4,136.4 Q194.4,132.6 197.8,132.6 Q201.2,132.6 201.2,136.4 L201.2,141" fill="#fff" stroke="#161616" stroke-width="1.32" stroke-linejoin="round" stroke-linecap="round" />
<circle cx="197.8" cy="136.2" r="1.0" fill="#666" stroke="#161616" stroke-width="0.84"/>
<path d="M177,187.5 L177,190.6 Q177,194.4 180.2,194.4 Q183.4,194.4 183.4,190.6 L183.4,187.5" fill="#fff" stroke="#161616" stroke-width="1.32" stroke-linejoin="round" stroke-linecap="round" />
<circle cx="180.2" cy="190.8" r="1.0" fill="#999" stroke="#161616" stroke-width="0.84"/>
<rect x="172.4" y="146.4" width="2.8" height="3.2" fill="#fff" stroke="#111" stroke-width="0.9"/>
<rect x="203.4" y="146.4" width="2.8" height="3.2" fill="#fff" stroke="#111" stroke-width="0.9"/>
<rect x="203.4" y="175" width="2.8" height="3.2" fill="#fff" stroke="#111" stroke-width="0.9"/>
<circle cx="168.0" cy="168.4" r="4.6" fill="#fff" stroke="#111" stroke-width="1.80"/>
<path d="M163.6,171 Q166,176 176,174.6" fill="none" stroke="#161616" stroke-width="1.44" stroke-linejoin="round" stroke-linecap="round" />
<path d="M160,163 Q168,160.6 176,162.4" fill="none" stroke="#161616" stroke-width="1.20" stroke-linejoin="round" stroke-linecap="round" />
<rect x="175.4" y="141.2" width="27.4" height="46.2" rx="3" fill="#fff" stroke="#0a0a0a" stroke-width="2.4"/>
<rect x="176.6" y="154.6" width="25" height="5.2" fill="#1a1a1a"/>
<rect x="176.6" y="169.6" width="25" height="5.6" fill="#1a1a1a"/>
<rect x="178.0" y="159.8" width="5.2" height="9.8" fill="#fff" stroke="#111" stroke-width="1.0"/>
<circle cx="180.6" cy="156.6" r="1.5" fill="#333" stroke="#888" stroke-width="0.72"/>
<circle cx="180.6" cy="172.8" r="1.5" fill="#333" stroke="#888" stroke-width="0.72"/>
<rect x="186.6" y="159.8" width="5.2" height="9.8" fill="#fff" stroke="#111" stroke-width="1.0"/>
<circle cx="189.2" cy="156.6" r="1.5" fill="#333" stroke="#888" stroke-width="0.72"/>
<circle cx="189.2" cy="172.8" r="1.5" fill="#333" stroke="#888" stroke-width="0.72"/>
<rect x="195.0" y="159.8" width="5.2" height="9.8" fill="#fff" stroke="#111" stroke-width="1.0"/>
<circle cx="197.6" cy="156.6" r="1.5" fill="#333" stroke="#888" stroke-width="0.72"/>
<circle cx="197.6" cy="172.8" r="1.5" fill="#333" stroke="#888" stroke-width="0.72"/>
<rect x="184.0" y="157" width="1.8" height="16" fill="#ddd" stroke="#222" stroke-width="0.5"/>
<rect x="192.6" y="157" width="1.8" height="16" fill="#ddd" stroke="#222" stroke-width="0.5"/>
<path d="M178.6,155 Q184,151.6 189.2,153.8 Q194.4,151.6 200,155" fill="#fff" stroke="#111" stroke-width="1.56" stroke-linejoin="round" stroke-linecap="round" />
<path d="M178.6,175 Q184,178.6 189.2,176.4 Q194.4,178.6 200,175" fill="#fff" stroke="#111" stroke-width="1.56" stroke-linejoin="round" stroke-linecap="round" />
<rect x="186.8" y="144.6" width="4.8" height="3.4" fill="#222"/>
<rect x="187.4" y="145.4" width="3.6" height="1.2" fill="#ddd"/>
<line x1="189.2" y1="148.0" x2="189.2" y2="154.0" stroke="#111" stroke-width="1.92" />
<line x1="189.2" y1="176.0" x2="189.2" y2="186.0" stroke="#111" stroke-width="1.92" />
<text transform="translate(179.6,151.5) scale(0.82,1)" font-size="10.5" font-family="'Liberation Sans', sans-serif" font-weight="bold" fill="#111" text-anchor="middle">L</text>
<text transform="translate(197.3,151.5) scale(0.82,1)" font-size="10.5" font-family="'Liberation Sans', sans-serif" font-weight="bold" fill="#111" text-anchor="middle">N</text>
<text transform="translate(179.6,186.3) scale(0.82,1)" font-size="10.5" font-family="'Liberation Sans', sans-serif" font-weight="bold" fill="#111" text-anchor="middle">L</text>
<text transform="translate(197.3,186.3) scale(0.82,1)" font-size="10.5" font-family="'Liberation Sans', sans-serif" font-weight="bold" fill="#111" text-anchor="middle">N</text>
<rect x="187.4" y="186" width="4.4" height="57" fill="#fff"/>
<path d="M187.4,188.6 L187.4,236 Q187.4,240 188.2,243" fill="none" stroke="#222" stroke-width="1.44" stroke-linejoin="round" stroke-linecap="round" />
<path d="M191.8,188.6 L191.8,236 Q191.8,240 192.8,243" fill="none" stroke="#222" stroke-width="1.44" stroke-linejoin="round" stroke-linecap="round" />
<polyline points="203.4,161.8 216.0,165.6 203.4,170.6" fill="none" stroke="#161616" stroke-width="1.08" stroke-linejoin="round" />
<circle cx="216.0" cy="165.6" r="3.7" fill="#333" stroke="#222" stroke-width="1.56"/>
<circle cx="216.0" cy="165.6" r="1.8" fill="none" stroke="#555" stroke-width="0.84"/>
<text x="216.0" y="168.0" font-size="7" font-family="'Liberation Sans', sans-serif" font-weight="bold" fill="#999" text-anchor="middle">e</text>
<line x1="198.2" y1="205.6" x2="198.2" y2="196.4" stroke="#161616" stroke-width="1.32" />
<polygon points="198.2,191.4 200.5,197.4 195.9,197.4" fill="#161616" stroke="#161616" stroke-width="0.36" stroke-linejoin="round" />
<circle cx="207.1" cy="199.4" r="4.9" fill="#fff" stroke="#222" stroke-width="1.56"/>
<text x="207.1" y="201.8" font-size="7" font-family="'Liberation Sans', sans-serif" font-weight="bold" fill="#222" text-anchor="middle">b</text>
<circle cx="167.9" cy="199.2" r="4.9" fill="#fff" stroke="#222" stroke-width="1.56"/>
<text x="167.9" y="201.6" font-size="7" font-family="'Liberation Sans', sans-serif" font-weight="bold" fill="#222" text-anchor="middle">c</text>
<polygon points="132.4,206.2 151.0,195.2 157.4,190.6 160.4,196.8 141.0,216.4 137.0,210.8" fill="#fff" stroke="none" stroke-width="0.00" stroke-linejoin="round" />
<line x1="132.4" y1="206.2" x2="156.6" y2="190.4" stroke="#161616" stroke-width="1.32" />
<polygon points="137.0,210.8 156.4,192.4 160.2,197.4 141.0,216.4" fill="#a8a8a8" stroke="#222" stroke-width="1.20" stroke-linejoin="round" />
<path d="M138.4,212.2 L157.6,194 M139.8,214.2 L159,195.6" fill="none" stroke="#3a3a3a" stroke-width="0.84" stroke-linejoin="round" stroke-linecap="round" />
<line x1="157.4" y1="190.4" x2="175.2" y2="176.6" stroke="#161616" stroke-width="1.08" />
<line x1="159.6" y1="193.6" x2="176.4" y2="178.6" stroke="#161616" stroke-width="1.08" />
<line x1="167.4" y1="185.4" x2="170.5" y2="190.4" stroke="#161616" stroke-width="1.20" />
<polygon points="173.2,194.6 168.1,190.7 171.9,188.4" fill="#161616" stroke="#161616" stroke-width="0.36" stroke-linejoin="round" />
<polygon points="244.2,240.0 250.0,233.4 259.0,235.0 255.6,247.0 256.0,254.0 246.6,255.0 246.4,250.0" fill="#fff" stroke="#111" stroke-width="1.44" stroke-linejoin="round" />
<polygon points="264.0,232.0 273.0,232.4 278.6,238.0 279.0,253.0 269.6,254.6 268.0,247.0 262.0,238.6" fill="#fff" stroke="#111" stroke-width="1.44" stroke-linejoin="round" />
<path d="M246.6,237.4 Q251,234.4 256.4,237.4 Q252,240.8 246.6,237.4 Z" fill="#222" stroke="#161616" stroke-width="0.96" stroke-linejoin="round" stroke-linecap="round" />
<path d="M266.4,235 Q271.4,233 276.4,237 Q271,239.4 266.4,235 Z" fill="#222" stroke="#161616" stroke-width="0.96" stroke-linejoin="round" stroke-linecap="round" />
<path d="M250,241 L253,248 L256,241.4 M269,241 L272.4,248.4 L275,241.4" fill="none" stroke="#161616" stroke-width="1.20" stroke-linejoin="round" stroke-linecap="round" />
<path d="M247,252.4 L255.6,251.6 M269.6,252 L278.6,250.8" fill="none" stroke="#111" stroke-width="1.68" stroke-linejoin="round" stroke-linecap="round" />
<path d="M246.6,255 L247,258 M255.4,254.4 L256,257.6 M270,254.6 L270.6,258 M278.6,253.4 L279.6,257" fill="none" stroke="#161616" stroke-width="1.20" stroke-linejoin="round" stroke-linecap="round" />
<path d="M259,235 L261.6,230.6 L264,232 M261.6,230.6 L261.4,238" fill="none" stroke="#161616" stroke-width="1.08" stroke-linejoin="round" stroke-linecap="round" />
<path d="M279,249 Q281,251.4 284.5,250.9" fill="none" stroke="#161616" stroke-width="1.20" stroke-linejoin="round" stroke-linecap="round" />
<circle cx="261.4" cy="267.6" r="7.9" fill="#fff" stroke="#161616" stroke-width="1.38"/>
<text x="261.4" y="272.6" font-size="15" font-family="'Liberation Serif', serif" fill="#111" stroke="#111" stroke-width="0.5" text-anchor="middle" textLength="12.0" lengthAdjust="spacingAndGlyphs">12</text>
<path d="M197,265.4 Q203,263.4 207.4,261.6 Q210.4,262.6 213.4,263.6 Q221,266.4 227,271.6 Q233,276.4 236.8,280.6 Q235.6,283.8 232.6,284 Q227,282.6 222.6,279.4" fill="none" stroke="#161616" stroke-width="1.20" stroke-linejoin="round" stroke-linecap="round" />
<path d="M220.6,271 Q224,277 233.4,281.4 M224.4,272.4 Q228,277 235,279.4" fill="none" stroke="#161616" stroke-width="1.08" stroke-linejoin="round" stroke-linecap="round" />
<path d="M196,275.4 Q203,274 208,273.6 Q212,275.6 214.6,277.6 Q216,276 218.4,276.4 Q221.6,278 221.6,283.6 Q221.4,287.6 219.2,287.6 Q217.4,287 217.6,283 L217,278.6" fill="none" stroke="#161616" stroke-width="1.20" stroke-linejoin="round" stroke-linecap="round" />
<path d="M196,284 Q202,279 207,275.4" fill="none" stroke="#161616" stroke-width="1.08" stroke-linejoin="round" stroke-linecap="round" />
<path d="M204,282.4 L210.4,277 L209.6,280 L205.4,283.6 Z" fill="#111" stroke="#161616" stroke-width="0.96" stroke-linejoin="round" stroke-linecap="round" />
<path d="M201,292.6 Q207,289.6 211,287.6 Q212.6,283.6 213.6,279" fill="none" stroke="#161616" stroke-width="1.20" stroke-linejoin="round" stroke-linecap="round" />
<path d="M205.4,268 L211.6,269.4 M207.6,266 L208.4,270.4 M210,266.4 L210.4,274" fill="none" stroke="#161616" stroke-width="0.96" stroke-linejoin="round" stroke-linecap="round" />
<circle cx="510.3" cy="462.1" r="7.9" fill="#fff" stroke="#161616" stroke-width="1.38"/>
<text transform="translate(510.3,467.1) scale(1.2,1)" x="0" y="0" font-size="15" font-family="'Liberation Serif', serif" fill="#111" stroke="#111" stroke-width="0.2" text-anchor="middle">8</text>
<path d="M558.4,449.7 Q572,467 584.5,486.8 Q563,503 540.8,516.5 Q530.5,496.5 515.9,478.9 Q537,463.5 558.4,449.7 Z" fill="#fff" stroke="#111" stroke-width="1.32" stroke-linejoin="round" stroke-linecap="round" />
<clipPath id="sheetclip"><path d="M558.4,450.7 Q572,467 583.5,486.6 Q563,502 541,515.5 Q530.5,496.5 517,479 Q537,464 558.4,450.7 Z"/></clipPath>
<g clip-path="url(#sheetclip)">
<g transform="translate(526.3,481.9) rotate(-30) scale(0.64)">
<ellipse cx="-6.2" cy="0.6" rx="6.2" ry="5.6" transform="rotate(0 -6.2 0.6)" fill="#fff" stroke="#0a0a0a" stroke-width="2.28"/>
<path d="M-6.2,2.0 L-0.6,2.2 M-6.2,2.0 L-3.5,5.3 M-6.2,2.0 L-7.9,5.7 M-6.2,2.0 L-11.4,3.1 M-6.2,2.0 L-11.8,-1.0 M-6.2,2.0 L-8.9,-4.1 M-6.2,2.0 L-4.5,-4.5 M-6.2,2.0 L-1.0,-1.9" fill="none" stroke="#111" stroke-width="1.14" stroke-linejoin="round" stroke-linecap="round" />
<ellipse cx="-6.2" cy="2.0" rx="2.4" ry="2.0" transform="rotate(0 -6.2 2.0)" fill="#111" stroke="#161616" stroke-width="0.00"/>
<ellipse cx="6.6" cy="0.0" rx="5.0" ry="6.4" transform="rotate(0 6.6 0.0)" fill="#fff" stroke="#0a0a0a" stroke-width="2.28"/>
<path d="M6.6,1.6 L11.1,1.8 M6.6,1.6 L8.8,5.4 M6.6,1.6 L5.2,5.8 M6.6,1.6 L2.4,2.8 M6.6,1.6 L2.1,-1.8 M6.6,1.6 L4.4,-5.4 M6.6,1.6 L8.0,-5.8 M6.6,1.6 L10.8,-2.8" fill="none" stroke="#111" stroke-width="1.14" stroke-linejoin="round" stroke-linecap="round" />
<ellipse cx="6.6" cy="1.6" rx="1.9" ry="2.3" transform="rotate(0 6.6 1.6)" fill="#111" stroke="#161616" stroke-width="0.00"/>
<polygon points="-5.2,-8.4 -2.8,-11.1 4.8,-11.7 7.6,-9.2 5.2,-6.5 -2.4,-5.9" fill="#111" stroke="#0a0a0a" stroke-width="1.44" stroke-linejoin="round" />
<ellipse cx="-2.8" cy="-8.5" rx="1.3" ry="0.8" transform="rotate(-4 -2.8 -8.5)" fill="#fff" stroke="#161616" stroke-width="0.00"/>
<ellipse cx="1.2" cy="-8.8" rx="1.8" ry="1.1" transform="rotate(-4 1.2 -8.8)" fill="#fff" stroke="#161616" stroke-width="0.00"/>
<ellipse cx="5.2" cy="-9.1" rx="1.3" ry="0.8" transform="rotate(-4 5.2 -9.1)" fill="#fff" stroke="#161616" stroke-width="0.00"/>
<polygon points="-9.2,9.2 -6.8,6.5 0.8,5.9 3.6,8.4 1.2,11.1 -6.4,11.7" fill="#111" stroke="#0a0a0a" stroke-width="1.44" stroke-linejoin="round" />
<ellipse cx="-6.8" cy="9.1" rx="1.3" ry="0.8" transform="rotate(-4 -6.8 9.1)" fill="#fff" stroke="#161616" stroke-width="0.00"/>
<ellipse cx="-2.8" cy="8.8" rx="1.8" ry="1.1" transform="rotate(-4 -2.8 8.8)" fill="#fff" stroke="#161616" stroke-width="0.00"/>
<ellipse cx="1.2" cy="8.5" rx="1.3" ry="0.8" transform="rotate(-4 1.2 8.5)" fill="#fff" stroke="#161616" stroke-width="0.00"/>
</g>
<g transform="translate(540.2,472.8) rotate(-30) scale(0.64)">
<ellipse cx="-6.2" cy="0.6" rx="6.2" ry="5.6" transform="rotate(0 -6.2 0.6)" fill="#fff" stroke="#0a0a0a" stroke-width="2.28"/>
<path d="M-6.2,2.0 L-0.6,2.2 M-6.2,2.0 L-3.5,5.3 M-6.2,2.0 L-7.9,5.7 M-6.2,2.0 L-11.4,3.1 M-6.2,2.0 L-11.8,-1.0 M-6.2,2.0 L-8.9,-4.1 M-6.2,2.0 L-4.5,-4.5 M-6.2,2.0 L-1.0,-1.9" fill="none" stroke="#111" stroke-width="1.14" stroke-linejoin="round" stroke-linecap="round" />
<ellipse cx="-6.2" cy="2.0" rx="2.4" ry="2.0" transform="rotate(0 -6.2 2.0)" fill="#111" stroke="#161616" stroke-width="0.00"/>
<ellipse cx="6.6" cy="0.0" rx="5.0" ry="6.4" transform="rotate(0 6.6 0.0)" fill="#fff" stroke="#0a0a0a" stroke-width="2.28"/>
<path d="M6.6,1.6 L11.1,1.8 M6.6,1.6 L8.8,5.4 M6.6,1.6 L5.2,5.8 M6.6,1.6 L2.4,2.8 M6.6,1.6 L2.1,-1.8 M6.6,1.6 L4.4,-5.4 M6.6,1.6 L8.0,-5.8 M6.6,1.6 L10.8,-2.8" fill="none" stroke="#111" stroke-width="1.14" stroke-linejoin="round" stroke-linecap="round" />
<ellipse cx="6.6" cy="1.6" rx="1.9" ry="2.3" transform="rotate(0 6.6 1.6)" fill="#111" stroke="#161616" stroke-width="0.00"/>
<polygon points="-5.2,-8.4 -2.8,-11.1 4.8,-11.7 7.6,-9.2 5.2,-6.5 -2.4,-5.9" fill="#111" stroke="#0a0a0a" stroke-width="1.44" stroke-linejoin="round" />
<ellipse cx="-2.8" cy="-8.5" rx="1.3" ry="0.8" transform="rotate(-4 -2.8 -8.5)" fill="#fff" stroke="#161616" stroke-width="0.00"/>
<ellipse cx="1.2" cy="-8.8" rx="1.8" ry="1.1" transform="rotate(-4 1.2 -8.8)" fill="#fff" stroke="#161616" stroke-width="0.00"/>
<ellipse cx="5.2" cy="-9.1" rx="1.3" ry="0.8" transform="rotate(-4 5.2 -9.1)" fill="#fff" stroke="#161616" stroke-width="0.00"/>
<polygon points="-9.2,9.2 -6.8,6.5 0.8,5.9 3.6,8.4 1.2,11.1 -6.4,11.7" fill="#111" stroke="#0a0a0a" stroke-width="1.44" stroke-linejoin="round" />
<ellipse cx="-6.8" cy="9.1" rx="1.3" ry="0.8" transform="rotate(-4 -6.8 9.1)" fill="#fff" stroke="#161616" stroke-width="0.00"/>
<ellipse cx="-2.8" cy="8.8" rx="1.8" ry="1.1" transform="rotate(-4 -2.8 8.8)" fill="#fff" stroke="#161616" stroke-width="0.00"/>
<ellipse cx="1.2" cy="8.5" rx="1.3" ry="0.8" transform="rotate(-4 1.2 8.5)" fill="#fff" stroke="#161616" stroke-width="0.00"/>
</g>
<g transform="translate(554.8,463.1) rotate(-30) scale(0.64)">
<ellipse cx="-6.2" cy="0.6" rx="6.2" ry="5.6" transform="rotate(0 -6.2 0.6)" fill="#fff" stroke="#0a0a0a" stroke-width="2.28"/>
<path d="M-6.2,2.0 L-0.6,2.2 M-6.2,2.0 L-3.5,5.3 M-6.2,2.0 L-7.9,5.7 M-6.2,2.0 L-11.4,3.1 M-6.2,2.0 L-11.8,-1.0 M-6.2,2.0 L-8.9,-4.1 M-6.2,2.0 L-4.5,-4.5 M-6.2,2.0 L-1.0,-1.9" fill="none" stroke="#111" stroke-width="1.14" stroke-linejoin="round" stroke-linecap="round" />
<ellipse cx="-6.2" cy="2.0" rx="2.4" ry="2.0" transform="rotate(0 -6.2 2.0)" fill="#111" stroke="#161616" stroke-width="0.00"/>
<ellipse cx="6.6" cy="0.0" rx="5.0" ry="6.4" transform="rotate(0 6.6 0.0)" fill="#fff" stroke="#0a0a0a" stroke-width="2.28"/>
<path d="M6.6,1.6 L11.1,1.8 M6.6,1.6 L8.8,5.4 M6.6,1.6 L5.2,5.8 M6.6,1.6 L2.4,2.8 M6.6,1.6 L2.1,-1.8 M6.6,1.6 L4.4,-5.4 M6.6,1.6 L8.0,-5.8 M6.6,1.6 L10.8,-2.8" fill="none" stroke="#111" stroke-width="1.14" stroke-linejoin="round" stroke-linecap="round" />
<ellipse cx="6.6" cy="1.6" rx="1.9" ry="2.3" transform="rotate(0 6.6 1.6)" fill="#111" stroke="#161616" stroke-width="0.00"/>
<polygon points="-5.2,-8.4 -2.8,-11.1 4.8,-11.7 7.6,-9.2 5.2,-6.5 -2.4,-5.9" fill="#111" stroke="#0a0a0a" stroke-width="1.44" stroke-linejoin="round" />
<ellipse cx="-2.8" cy="-8.5" rx="1.3" ry="0.8" transform="rotate(-4 -2.8 -8.5)" fill="#fff" stroke="#161616" stroke-width="0.00"/>
<ellipse cx="1.2" cy="-8.8" rx="1.8" ry="1.1" transform="rotate(-4 1.2 -8.8)" fill="#fff" stroke="#161616" stroke-width="0.00"/>
<ellipse cx="5.2" cy="-9.1" rx="1.3" ry="0.8" transform="rotate(-4 5.2 -9.1)" fill="#fff" stroke="#161616" stroke-width="0.00"/>
<polygon points="-9.2,9.2 -6.8,6.5 0.8,5.9 3.6,8.4 1.2,11.1 -6.4,11.7" fill="#111" stroke="#0a0a0a" stroke-width="1.44" stroke-linejoin="round" />
<ellipse cx="-6.8" cy="9.1" rx="1.3" ry="0.8" transform="rotate(-4 -6.8 9.1)" fill="#fff" stroke="#161616" stroke-width="0.00"/>
<ellipse cx="-2.8" cy="8.8" rx="1.8" ry="1.1" transform="rotate(-4 -2.8 8.8)" fill="#fff" stroke="#161616" stroke-width="0.00"/>
<ellipse cx="1.2" cy="8.5" rx="1.3" ry="0.8" transform="rotate(-4 1.2 8.5)" fill="#fff" stroke="#161616" stroke-width="0.00"/>
</g>
<g transform="translate(534.8,494.0) rotate(-30) scale(0.64)">
<ellipse cx="-6.2" cy="0.6" rx="6.2" ry="5.6" transform="rotate(0 -6.2 0.6)" fill="#fff" stroke="#0a0a0a" stroke-width="2.28"/>
<path d="M-6.2,2.0 L-0.6,2.2 M-6.2,2.0 L-3.5,5.3 M-6.2,2.0 L-7.9,5.7 M-6.2,2.0 L-11.4,3.1 M-6.2,2.0 L-11.8,-1.0 M-6.2,2.0 L-8.9,-4.1 M-6.2,2.0 L-4.5,-4.5 M-6.2,2.0 L-1.0,-1.9" fill="none" stroke="#111" stroke-width="1.14" stroke-linejoin="round" stroke-linecap="round" />
<ellipse cx="-6.2" cy="2.0" rx="2.4" ry="2.0" transform="rotate(0 -6.2 2.0)" fill="#111" stroke="#161616" stroke-width="0.00"/>
<ellipse cx="6.6" cy="0.0" rx="5.0" ry="6.4" transform="rotate(0 6.6 0.0)" fill="#fff" stroke="#0a0a0a" stroke-width="2.28"/>
<path d="M6.6,1.6 L11.1,1.8 M6.6,1.6 L8.8,5.4 M6.6,1.6 L5.2,5.8 M6.6,1.6 L2.4,2.8 M6.6,1.6 L2.1,-1.8 M6.6,1.6 L4.4,-5.4 M6.6,1.6 L8.0,-5.8 M6.6,1.6 L10.8,-2.8" fill="none" stroke="#111" stroke-width="1.14" stroke-linejoin="round" stroke-linecap="round" />
<ellipse cx="6.6" cy="1.6" rx="1.9" ry="2.3" transform="rotate(0 6.6 1.6)" fill="#111" stroke="#161616" stroke-width="0.00"/>
<polygon points="-5.2,-8.4 -2.8,-11.1 4.8,-11.7 7.6,-9.2 5.2,-6.5 -2.4,-5.9" fill="#111" stroke="#0a0a0a" stroke-width="1.44" stroke-linejoin="round" />
<ellipse cx="-2.8" cy="-8.5" rx="1.3" ry="0.8" transform="rotate(-4 -2.8 -8.5)" fill="#fff" stroke="#161616" stroke-width="0.00"/>
<ellipse cx="1.2" cy="-8.8" rx="1.8" ry="1.1" transform="rotate(-4 1.2 -8.8)" fill="#fff" stroke="#161616" stroke-width="0.00"/>
<ellipse cx="5.2" cy="-9.1" rx="1.3" ry="0.8" transform="rotate(-4 5.2 -9.1)" fill="#fff" stroke="#161616" stroke-width="0.00"/>
<polygon points="-9.2,9.2 -6.8,6.5 0.8,5.9 3.6,8.4 1.2,11.1 -6.4,11.7" fill="#111" stroke="#0a0a0a" stroke-width="1.44" stroke-linejoin="round" />
<ellipse cx="-6.8" cy="9.1" rx="1.3" ry="0.8" transform="rotate(-4 -6.8 9.1)" fill="#fff" stroke="#161616" stroke-width="0.00"/>
<ellipse cx="-2.8" cy="8.8" rx="1.8" ry="1.1" transform="rotate(-4 -2.8 8.8)" fill="#fff" stroke="#161616" stroke-width="0.00"/>
<ellipse cx="1.2" cy="8.5" rx="1.3" ry="0.8" transform="rotate(-4 1.2 8.5)" fill="#fff" stroke="#161616" stroke-width="0.00"/>
</g>
<g transform="translate(549.3,484.9) rotate(-30) scale(0.64)">
<ellipse cx="-6.2" cy="0.6" rx="6.2" ry="5.6" transform="rotate(0 -6.2 0.6)" fill="#fff" stroke="#0a0a0a" stroke-width="2.28"/>
<path d="M-6.2,2.0 L-0.6,2.2 M-6.2,2.0 L-3.5,5.3 M-6.2,2.0 L-7.9,5.7 M-6.2,2.0 L-11.4,3.1 M-6.2,2.0 L-11.8,-1.0 M-6.2,2.0 L-8.9,-4.1 M-6.2,2.0 L-4.5,-4.5 M-6.2,2.0 L-1.0,-1.9" fill="none" stroke="#111" stroke-width="1.14" stroke-linejoin="round" stroke-linecap="round" />
<ellipse cx="-6.2" cy="2.0" rx="2.4" ry="2.0" transform="rotate(0 -6.2 2.0)" fill="#111" stroke="#161616" stroke-width="0.00"/>
<ellipse cx="6.6" cy="0.0" rx="5.0" ry="6.4" transform="rotate(0 6.6 0.0)" fill="#fff" stroke="#0a0a0a" stroke-width="2.28"/>
<path d="M6.6,1.6 L11.1,1.8 M6.6,1.6 L8.8,5.4 M6.6,1.6 L5.2,5.8 M6.6,1.6 L2.4,2.8 M6.6,1.6 L2.1,-1.8 M6.6,1.6 L4.4,-5.4 M6.6,1.6 L8.0,-5.8 M6.6,1.6 L10.8,-2.8" fill="none" stroke="#111" stroke-width="1.14" stroke-linejoin="round" stroke-linecap="round" />
<ellipse cx="6.6" cy="1.6" rx="1.9" ry="2.3" transform="rotate(0 6.6 1.6)" fill="#111" stroke="#161616" stroke-width="0.00"/>
<polygon points="-5.2,-8.4 -2.8,-11.1 4.8,-11.7 7.6,-9.2 5.2,-6.5 -2.4,-5.9" fill="#111" stroke="#0a0a0a" stroke-width="1.44" stroke-linejoin="round" />
<ellipse cx="-2.8" cy="-8.5" rx="1.3" ry="0.8" transform="rotate(-4 -2.8 -8.5)" fill="#fff" stroke="#161616" stroke-width="0.00"/>
<ellipse cx="1.2" cy="-8.8" rx="1.8" ry="1.1" transform="rotate(-4 1.2 -8.8)" fill="#fff" stroke="#161616" stroke-width="0.00"/>
<ellipse cx="5.2" cy="-9.1" rx="1.3" ry="0.8" transform="rotate(-4 5.2 -9.1)" fill="#fff" stroke="#161616" stroke-width="0.00"/>
<polygon points="-9.2,9.2 -6.8,6.5 0.8,5.9 3.6,8.4 1.2,11.1 -6.4,11.7" fill="#111" stroke="#0a0a0a" stroke-width="1.44" stroke-linejoin="round" />
<ellipse cx="-6.8" cy="9.1" rx="1.3" ry="0.8" transform="rotate(-4 -6.8 9.1)" fill="#fff" stroke="#161616" stroke-width="0.00"/>
<ellipse cx="-2.8" cy="8.8" rx="1.8" ry="1.1" transform="rotate(-4 -2.8 8.8)" fill="#fff" stroke="#161616" stroke-width="0.00"/>
<ellipse cx="1.2" cy="8.5" rx="1.3" ry="0.8" transform="rotate(-4 1.2 8.5)" fill="#fff" stroke="#161616" stroke-width="0.00"/>
</g>
<g transform="translate(563.3,475.2) rotate(-30) scale(0.64)">
<ellipse cx="-6.2" cy="0.6" rx="6.2" ry="5.6" transform="rotate(0 -6.2 0.6)" fill="#fff" stroke="#0a0a0a" stroke-width="2.28"/>
<path d="M-6.2,2.0 L-0.6,2.2 M-6.2,2.0 L-3.5,5.3 M-6.2,2.0 L-7.9,5.7 M-6.2,2.0 L-11.4,3.1 M-6.2,2.0 L-11.8,-1.0 M-6.2,2.0 L-8.9,-4.1 M-6.2,2.0 L-4.5,-4.5 M-6.2,2.0 L-1.0,-1.9" fill="none" stroke="#111" stroke-width="1.14" stroke-linejoin="round" stroke-linecap="round" />
<ellipse cx="-6.2" cy="2.0" rx="2.4" ry="2.0" transform="rotate(0 -6.2 2.0)" fill="#111" stroke="#161616" stroke-width="0.00"/>
<ellipse cx="6.6" cy="0.0" rx="5.0" ry="6.4" transform="rotate(0 6.6 0.0)" fill="#fff" stroke="#0a0a0a" stroke-width="2.28"/>
<path d="M6.6,1.6 L11.1,1.8 M6.6,1.6 L8.8,5.4 M6.6,1.6 L5.2,5.8 M6.6,1.6 L2.4,2.8 M6.6,1.6 L2.1,-1.8 M6.6,1.6 L4.4,-5.4 M6.6,1.6 L8.0,-5.8 M6.6,1.6 L10.8,-2.8" fill="none" stroke="#111" stroke-width="1.14" stroke-linejoin="round" stroke-linecap="round" />
<ellipse cx="6.6" cy="1.6" rx="1.9" ry="2.3" transform="rotate(0 6.6 1.6)" fill="#111" stroke="#161616" stroke-width="0.00"/>
<polygon points="-5.2,-8.4 -2.8,-11.1 4.8,-11.7 7.6,-9.2 5.2,-6.5 -2.4,-5.9" fill="#111" stroke="#0a0a0a" stroke-width="1.44" stroke-linejoin="round" />
<ellipse cx="-2.8" cy="-8.5" rx="1.3" ry="0.8" transform="rotate(-4 -2.8 -8.5)" fill="#fff" stroke="#161616" stroke-width="0.00"/>
<ellipse cx="1.2" cy="-8.8" rx="1.8" ry="1.1" transform="rotate(-4 1.2 -8.8)" fill="#fff" stroke="#161616" stroke-width="0.00"/>
<ellipse cx="5.2" cy="-9.1" rx="1.3" ry="0.8" transform="rotate(-4 5.2 -9.1)" fill="#fff" stroke="#161616" stroke-width="0.00"/>
<polygon points="-9.2,9.2 -6.8,6.5 0.8,5.9 3.6,8.4 1.2,11.1 -6.4,11.7" fill="#111" stroke="#0a0a0a" stroke-width="1.44" stroke-linejoin="round" />
<ellipse cx="-6.8" cy="9.1" rx="1.3" ry="0.8" transform="rotate(-4 -6.8 9.1)" fill="#fff" stroke="#161616" stroke-width="0.00"/>
<ellipse cx="-2.8" cy="8.8" rx="1.8" ry="1.1" transform="rotate(-4 -2.8 8.8)" fill="#fff" stroke="#161616" stroke-width="0.00"/>
<ellipse cx="1.2" cy="8.5" rx="1.3" ry="0.8" transform="rotate(-4 1.2 8.5)" fill="#fff" stroke="#161616" stroke-width="0.00"/>
</g>
<g transform="translate(543.3,506.2) rotate(-30) scale(0.64)">
<ellipse cx="-6.2" cy="0.6" rx="6.2" ry="5.6" transform="rotate(0 -6.2 0.6)" fill="#fff" stroke="#0a0a0a" stroke-width="2.28"/>
<path d="M-6.2,2.0 L-0.6,2.2 M-6.2,2.0 L-3.5,5.3 M-6.2,2.0 L-7.9,5.7 M-6.2,2.0 L-11.4,3.1 M-6.2,2.0 L-11.8,-1.0 M-6.2,2.0 L-8.9,-4.1 M-6.2,2.0 L-4.5,-4.5 M-6.2,2.0 L-1.0,-1.9" fill="none" stroke="#111" stroke-width="1.14" stroke-linejoin="round" stroke-linecap="round" />
<ellipse cx="-6.2" cy="2.0" rx="2.4" ry="2.0" transform="rotate(0 -6.2 2.0)" fill="#111" stroke="#161616" stroke-width="0.00"/>
<ellipse cx="6.6" cy="0.0" rx="5.0" ry="6.4" transform="rotate(0 6.6 0.0)" fill="#fff" stroke="#0a0a0a" stroke-width="2.28"/>
<path d="M6.6,1.6 L11.1,1.8 M6.6,1.6 L8.8,5.4 M6.6,1.6 L5.2,5.8 M6.6,1.6 L2.4,2.8 M6.6,1.6 L2.1,-1.8 M6.6,1.6 L4.4,-5.4 M6.6,1.6 L8.0,-5.8 M6.6,1.6 L10.8,-2.8" fill="none" stroke="#111" stroke-width="1.14" stroke-linejoin="round" stroke-linecap="round" />
<ellipse cx="6.6" cy="1.6" rx="1.9" ry="2.3" transform="rotate(0 6.6 1.6)" fill="#111" stroke="#161616" stroke-width="0.00"/>
<polygon points="-5.2,-8.4 -2.8,-11.1 4.8,-11.7 7.6,-9.2 5.2,-6.5 -2.4,-5.9" fill="#111" stroke="#0a0a0a" stroke-width="1.44" stroke-linejoin="round" />
<ellipse cx="-2.8" cy="-8.5" rx="1.3" ry="0.8" transform="rotate(-4 -2.8 -8.5)" fill="#fff" stroke="#161616" stroke-width="0.00"/>
<ellipse cx="1.2" cy="-8.8" rx="1.8" ry="1.1" transform="rotate(-4 1.2 -8.8)" fill="#fff" stroke="#161616" stroke-width="0.00"/>
<ellipse cx="5.2" cy="-9.1" rx="1.3" ry="0.8" transform="rotate(-4 5.2 -9.1)" fill="#fff" stroke="#161616" stroke-width="0.00"/>
<polygon points="-9.2,9.2 -6.8,6.5 0.8,5.9 3.6,8.4 1.2,11.1 -6.4,11.7" fill="#111" stroke="#0a0a0a" stroke-width="1.44" stroke-linejoin="round" />
<ellipse cx="-6.8" cy="9.1" rx="1.3" ry="0.8" transform="rotate(-4 -6.8 9.1)" fill="#fff" stroke="#161616" stroke-width="0.00"/>
<ellipse cx="-2.8" cy="8.8" rx="1.8" ry="1.1" transform="rotate(-4 -2.8 8.8)" fill="#fff" stroke="#161616" stroke-width="0.00"/>
<ellipse cx="1.2" cy="8.5" rx="1.3" ry="0.8" transform="rotate(-4 1.2 8.5)" fill="#fff" stroke="#161616" stroke-width="0.00"/>
</g>
<g transform="translate(557.2,496.5) rotate(-30) scale(0.64)">
<ellipse cx="-6.2" cy="0.6" rx="6.2" ry="5.6" transform="rotate(0 -6.2 0.6)" fill="#fff" stroke="#0a0a0a" stroke-width="2.28"/>
<path d="M-6.2,2.0 L-0.6,2.2 M-6.2,2.0 L-3.5,5.3 M-6.2,2.0 L-7.9,5.7 M-6.2,2.0 L-11.4,3.1 M-6.2,2.0 L-11.8,-1.0 M-6.2,2.0 L-8.9,-4.1 M-6.2,2.0 L-4.5,-4.5 M-6.2,2.0 L-1.0,-1.9" fill="none" stroke="#111" stroke-width="1.14" stroke-linejoin="round" stroke-linecap="round" />
<ellipse cx="-6.2" cy="2.0" rx="2.4" ry="2.0" transform="rotate(0 -6.2 2.0)" fill="#111" stroke="#161616" stroke-width="0.00"/>
<ellipse cx="6.6" cy="0.0" rx="5.0" ry="6.4" transform="rotate(0 6.6 0.0)" fill="#fff" stroke="#0a0a0a" stroke-width="2.28"/>
<path d="M6.6,1.6 L11.1,1.8 M6.6,1.6 L8.8,5.4 M6.6,1.6 L5.2,5.8 M6.6,1.6 L2.4,2.8 M6.6,1.6 L2.1,-1.8 M6.6,1.6 L4.4,-5.4 M6.6,1.6 L8.0,-5.8 M6.6,1.6 L10.8,-2.8" fill="none" stroke="#111" stroke-width="1.14" stroke-linejoin="round" stroke-linecap="round" />
<ellipse cx="6.6" cy="1.6" rx="1.9" ry="2.3" transform="rotate(0 6.6 1.6)" fill="#111" stroke="#161616" stroke-width="0.00"/>
<polygon points="-5.2,-8.4 -2.8,-11.1 4.8,-11.7 7.6,-9.2 5.2,-6.5 -2.4,-5.9" fill="#111" stroke="#0a0a0a" stroke-width="1.44" stroke-linejoin="round" />
<ellipse cx="-2.8" cy="-8.5" rx="1.3" ry="0.8" transform="rotate(-4 -2.8 -8.5)" fill="#fff" stroke="#161616" stroke-width="0.00"/>
<ellipse cx="1.2" cy="-8.8" rx="1.8" ry="1.1" transform="rotate(-4 1.2 -8.8)" fill="#fff" stroke="#161616" stroke-width="0.00"/>
<ellipse cx="5.2" cy="-9.1" rx="1.3" ry="0.8" transform="rotate(-4 5.2 -9.1)" fill="#fff" stroke="#161616" stroke-width="0.00"/>
<polygon points="-9.2,9.2 -6.8,6.5 0.8,5.9 3.6,8.4 1.2,11.1 -6.4,11.7" fill="#111" stroke="#0a0a0a" stroke-width="1.44" stroke-linejoin="round" />
<ellipse cx="-6.8" cy="9.1" rx="1.3" ry="0.8" transform="rotate(-4 -6.8 9.1)" fill="#fff" stroke="#161616" stroke-width="0.00"/>
<ellipse cx="-2.8" cy="8.8" rx="1.8" ry="1.1" transform="rotate(-4 -2.8 8.8)" fill="#fff" stroke="#161616" stroke-width="0.00"/>
<ellipse cx="1.2" cy="8.5" rx="1.3" ry="0.8" transform="rotate(-4 1.2 8.5)" fill="#fff" stroke="#161616" stroke-width="0.00"/>
</g>
<g transform="translate(571.2,486.1) rotate(-30) scale(0.64)">
<ellipse cx="-6.2" cy="0.6" rx="6.2" ry="5.6" transform="rotate(0 -6.2 0.6)" fill="#fff" stroke="#0a0a0a" stroke-width="2.28"/>
<path d="M-6.2,2.0 L-0.6,2.2 M-6.2,2.0 L-3.5,5.3 M-6.2,2.0 L-7.9,5.7 M-6.2,2.0 L-11.4,3.1 M-6.2,2.0 L-11.8,-1.0 M-6.2,2.0 L-8.9,-4.1 M-6.2,2.0 L-4.5,-4.5 M-6.2,2.0 L-1.0,-1.9" fill="none" stroke="#111" stroke-width="1.14" stroke-linejoin="round" stroke-linecap="round" />
<ellipse cx="-6.2" cy="2.0" rx="2.4" ry="2.0" transform="rotate(0 -6.2 2.0)" fill="#111" stroke="#161616" stroke-width="0.00"/>
<ellipse cx="6.6" cy="0.0" rx="5.0" ry="6.4" transform="rotate(0 6.6 0.0)" fill="#fff" stroke="#0a0a0a" stroke-width="2.28"/>
<path d="M6.6,1.6 L11.1,1.8 M6.6,1.6 L8.8,5.4 M6.6,1.6 L5.2,5.8 M6.6,1.6 L2.4,2.8 M6.6,1.6 L2.1,-1.8 M6.6,1.6 L4.4,-5.4 M6.6,1.6 L8.0,-5.8 M6.6,1.6 L10.8,-2.8" fill="none" stroke="#111" stroke-width="1.14" stroke-linejoin="round" stroke-linecap="round" />
<ellipse cx="6.6" cy="1.6" rx="1.9" ry="2.3" transform="rotate(0 6.6 1.6)" fill="#111" stroke="#161616" stroke-width="0.00"/>
<polygon points="-5.2,-8.4 -2.8,-11.1 4.8,-11.7 7.6,-9.2 5.2,-6.5 -2.4,-5.9" fill="#111" stroke="#0a0a0a" stroke-width="1.44" stroke-linejoin="round" />
<ellipse cx="-2.8" cy="-8.5" rx="1.3" ry="0.8" transform="rotate(-4 -2.8 -8.5)" fill="#fff" stroke="#161616" stroke-width="0.00"/>
<ellipse cx="1.2" cy="-8.8" rx="1.8" ry="1.1" transform="rotate(-4 1.2 -8.8)" fill="#fff" stroke="#161616" stroke-width="0.00"/>
<ellipse cx="5.2" cy="-9.1" rx="1.3" ry="0.8" transform="rotate(-4 5.2 -9.1)" fill="#fff" stroke="#161616" stroke-width="0.00"/>
<polygon points="-9.2,9.2 -6.8,6.5 0.8,5.9 3.6,8.4 1.2,11.1 -6.4,11.7" fill="#111" stroke="#0a0a0a" stroke-width="1.44" stroke-linejoin="round" />
<ellipse cx="-6.8" cy="9.1" rx="1.3" ry="0.8" transform="rotate(-4 -6.8 9.1)" fill="#fff" stroke="#161616" stroke-width="0.00"/>
<ellipse cx="-2.8" cy="8.8" rx="1.8" ry="1.1" transform="rotate(-4 -2.8 8.8)" fill="#fff" stroke="#161616" stroke-width="0.00"/>
<ellipse cx="1.2" cy="8.5" rx="1.3" ry="0.8" transform="rotate(-4 1.2 8.5)" fill="#fff" stroke="#161616" stroke-width="0.00"/>
</g>
</g>
<path d="M526.6,508 Q519.4,511 517.2,518.6" fill="none" stroke="#111" stroke-width="1.32" stroke-linejoin="round" stroke-linecap="round" />
<polygon points="515.6,526.0 513.4,517.6 520.6,518.2" fill="#111" stroke="#161616" stroke-width="0.48" stroke-linejoin="round" />
<ellipse cx="533.3" cy="516.6" rx="4.0" ry="2.0" transform="rotate(-18 533.3 516.6)" fill="#fff" stroke="#111" stroke-width="1.56"/>
<ellipse cx="533.3" cy="516.6" rx="1.6" ry="0.6" transform="rotate(-18 533.3 516.6)" fill="#fff" stroke="#111" stroke-width="0.72"/>
<ellipse cx="530.4" cy="522.4" rx="4.0" ry="2.0" transform="rotate(-18 530.4 522.4)" fill="#fff" stroke="#111" stroke-width="1.56"/>
<ellipse cx="530.4" cy="522.4" rx="1.6" ry="0.6" transform="rotate(-18 530.4 522.4)" fill="#fff" stroke="#111" stroke-width="0.72"/>
<ellipse cx="528.1" cy="529.1" rx="4.0" ry="2.0" transform="rotate(-18 528.1 529.1)" fill="#fff" stroke="#111" stroke-width="1.56"/>
<ellipse cx="528.1" cy="529.1" rx="1.6" ry="0.6" transform="rotate(-18 528.1 529.1)" fill="#fff" stroke="#111" stroke-width="0.72"/>
<polyline points="480.3,554.9 537.3,528.0 537.3,553.8" fill="none" stroke="#161616" stroke-width="1.32" stroke-linejoin="round" />
<polygon points="539.0,528.0 547.0,525.7 547.0,550.9 539.0,553.2" fill="#fff" stroke="#161616" stroke-width="1.32" stroke-linejoin="round" />
<line x1="539.0" y1="533.6" x2="547.0" y2="531.4" stroke="#161616" stroke-width="1.08" />
<polyline points="480.3,577.8 547.0,551.0" fill="none" stroke="#111" stroke-width="1.80" stroke-linejoin="round" />
<polyline points="487.0,578.6 545.0,554.8" fill="none" stroke="#161616" stroke-width="0.96" stroke-linejoin="round" />
<g transform="translate(485.9,570.9) scale(0.58)">
<ellipse cx="0.0" cy="0.0" rx="6.6" ry="5.8" transform="rotate(0 0.0 0.0)" fill="#fff" stroke="#0a0a0a" stroke-width="2.88"/>
<path d="M0.7,1.7 L6.0,1.6 M0.7,1.7 L3.4,4.6 M0.7,1.7 L-0.8,5.5 M0.7,1.7 L-4.6,3.7 M0.7,1.7 L-6.3,0.3 M0.7,1.7 L-5.0,-3.3 M0.7,1.7 L-1.4,-5.4 M0.7,1.7 L2.9,-4.9 M0.7,1.7 L5.8,-2.1" fill="none" stroke="#111" stroke-width="1.14" stroke-linejoin="round" stroke-linecap="round" />
<ellipse cx="0.7" cy="1.7" rx="2.5" ry="2.1" transform="rotate(0 0.7 1.7)" fill="#111" stroke="#161616" stroke-width="0.00"/>
<ellipse cx="13.7" cy="0.9" rx="5.0" ry="6.9" transform="rotate(0 13.7 0.9)" fill="#fff" stroke="#0a0a0a" stroke-width="2.88"/>
<path d="M15.2,0.9 L18.2,2.8 M15.2,0.9 L16.3,6.4 M15.2,0.9 L13.1,7.4 M15.2,0.9 L10.2,5.4 M15.2,0.9 L9.0,1.2 M15.2,0.9 L9.9,-3.1 M15.2,0.9 L12.6,-5.5 M15.2,0.9 L15.9,-4.9 M15.2,0.9 L18.1,-1.6" fill="none" stroke="#111" stroke-width="1.14" stroke-linejoin="round" stroke-linecap="round" />
<ellipse cx="15.2" cy="0.9" rx="1.9" ry="2.5" transform="rotate(0 15.2 0.9)" fill="#111" stroke="#161616" stroke-width="0.00"/>
<polygon points="1.7,-8.2 3.4,-11.7 11.1,-14.2 14.5,-12.4 12.8,-8.9 5.1,-6.4" fill="#111" stroke="#0a0a0a" stroke-width="2.16" stroke-linejoin="round" />
<ellipse cx="4.1" cy="-9.0" rx="1.3" ry="0.8" transform="rotate(-18 4.1 -9.0)" fill="#fff" stroke="#161616" stroke-width="0.00"/>
<ellipse cx="8.1" cy="-10.3" rx="1.8" ry="1.1" transform="rotate(-18 8.1 -10.3)" fill="#fff" stroke="#161616" stroke-width="0.00"/>
<ellipse cx="12.1" cy="-11.6" rx="1.3" ry="0.8" transform="rotate(-18 12.1 -11.6)" fill="#fff" stroke="#161616" stroke-width="0.00"/>
<polygon points="-3.4,11.4 -1.7,7.9 6.0,5.4 9.4,7.2 7.7,10.7 0.0,13.2" fill="#111" stroke="#0a0a0a" stroke-width="2.16" stroke-linejoin="round" />
<ellipse cx="-1.0" cy="10.6" rx="1.3" ry="0.8" transform="rotate(-18 -1.0 10.6)" fill="#fff" stroke="#161616" stroke-width="0.00"/>
<ellipse cx="3.0" cy="9.3" rx="1.8" ry="1.1" transform="rotate(-18 3.0 9.3)" fill="#fff" stroke="#161616" stroke-width="0.00"/>
<ellipse cx="7.0" cy="8.0" rx="1.3" ry="0.8" transform="rotate(-18 7.0 8.0)" fill="#fff" stroke="#161616" stroke-width="0.00"/>
</g>
<g transform="translate(499.3,563.6) scale(0.58)">
<ellipse cx="0.0" cy="0.0" rx="6.6" ry="5.8" transform="rotate(0 0.0 0.0)" fill="#fff" stroke="#0a0a0a" stroke-width="2.88"/>
<path d="M0.7,1.7 L6.0,1.6 M0.7,1.7 L3.4,4.6 M0.7,1.7 L-0.8,5.5 M0.7,1.7 L-4.6,3.7 M0.7,1.7 L-6.3,0.3 M0.7,1.7 L-5.0,-3.3 M0.7,1.7 L-1.4,-5.4 M0.7,1.7 L2.9,-4.9 M0.7,1.7 L5.8,-2.1" fill="none" stroke="#111" stroke-width="1.14" stroke-linejoin="round" stroke-linecap="round" />
<ellipse cx="0.7" cy="1.7" rx="2.5" ry="2.1" transform="rotate(0 0.7 1.7)" fill="#111" stroke="#161616" stroke-width="0.00"/>
<ellipse cx="13.7" cy="0.9" rx="5.0" ry="6.9" transform="rotate(0 13.7 0.9)" fill="#fff" stroke="#0a0a0a" stroke-width="2.88"/>
<path d="M15.2,0.9 L18.2,2.8 M15.2,0.9 L16.3,6.4 M15.2,0.9 L13.1,7.4 M15.2,0.9 L10.2,5.4 M15.2,0.9 L9.0,1.2 M15.2,0.9 L9.9,-3.1 M15.2,0.9 L12.6,-5.5 M15.2,0.9 L15.9,-4.9 M15.2,0.9 L18.1,-1.6" fill="none" stroke="#111" stroke-width="1.14" stroke-linejoin="round" stroke-linecap="round" />
<ellipse cx="15.2" cy="0.9" rx="1.9" ry="2.5" transform="rotate(0 15.2 0.9)" fill="#111" stroke="#161616" stroke-width="0.00"/>
<polygon points="1.7,-8.2 3.4,-11.7 11.1,-14.2 14.5,-12.4 12.8,-8.9 5.1,-6.4" fill="#111" stroke="#0a0a0a" stroke-width="2.16" stroke-linejoin="round" />
<ellipse cx="4.1" cy="-9.0" rx="1.3" ry="0.8" transform="rotate(-18 4.1 -9.0)" fill="#fff" stroke="#161616" stroke-width="0.00"/>
<ellipse cx="8.1" cy="-10.3" rx="1.8" ry="1.1" transform="rotate(-18 8.1 -10.3)" fill="#fff" stroke="#161616" stroke-width="0.00"/>
<ellipse cx="12.1" cy="-11.6" rx="1.3" ry="0.8" transform="rotate(-18 12.1 -11.6)" fill="#fff" stroke="#161616" stroke-width="0.00"/>
<polygon points="-3.4,11.4 -1.7,7.9 6.0,5.4 9.4,7.2 7.7,10.7 0.0,13.2" fill="#111" stroke="#0a0a0a" stroke-width="2.16" stroke-linejoin="round" />
<ellipse cx="-1.0" cy="10.6" rx="1.3" ry="0.8" transform="rotate(-18 -1.0 10.6)" fill="#fff" stroke="#161616" stroke-width="0.00"/>
<ellipse cx="3.0" cy="9.3" rx="1.8" ry="1.1" transform="rotate(-18 3.0 9.3)" fill="#fff" stroke="#161616" stroke-width="0.00"/>
<ellipse cx="7.0" cy="8.0" rx="1.3" ry="0.8" transform="rotate(-18 7.0 8.0)" fill="#fff" stroke="#161616" stroke-width="0.00"/>
</g>
<g transform="translate(512.7,556.4) scale(0.58)">
<ellipse cx="0.0" cy="0.0" rx="6.6" ry="5.8" transform="rotate(0 0.0 0.0)" fill="#fff" stroke="#0a0a0a" stroke-width="2.88"/>
<path d="M0.7,1.7 L6.0,1.6 M0.7,1.7 L3.4,4.6 M0.7,1.7 L-0.8,5.5 M0.7,1.7 L-4.6,3.7 M0.7,1.7 L-6.3,0.3 M0.7,1.7 L-5.0,-3.3 M0.7,1.7 L-1.4,-5.4 M0.7,1.7 L2.9,-4.9 M0.7,1.7 L5.8,-2.1" fill="none" stroke="#111" stroke-width="1.14" stroke-linejoin="round" stroke-linecap="round" />
<ellipse cx="0.7" cy="1.7" rx="2.5" ry="2.1" transform="rotate(0 0.7 1.7)" fill="#111" stroke="#161616" stroke-width="0.00"/>
<ellipse cx="13.7" cy="0.9" rx="5.0" ry="6.9" transform="rotate(0 13.7 0.9)" fill="#fff" stroke="#0a0a0a" stroke-width="2.88"/>
<path d="M15.2,0.9 L18.2,2.8 M15.2,0.9 L16.3,6.4 M15.2,0.9 L13.1,7.4 M15.2,0.9 L10.2,5.4 M15.2,0.9 L9.0,1.2 M15.2,0.9 L9.9,-3.1 M15.2,0.9 L12.6,-5.5 M15.2,0.9 L15.9,-4.9 M15.2,0.9 L18.1,-1.6" fill="none" stroke="#111" stroke-width="1.14" stroke-linejoin="round" stroke-linecap="round" />
<ellipse cx="15.2" cy="0.9" rx="1.9" ry="2.5" transform="rotate(0 15.2 0.9)" fill="#111" stroke="#161616" stroke-width="0.00"/>
<polygon points="1.7,-8.2 3.4,-11.7 11.1,-14.2 14.5,-12.4 12.8,-8.9 5.1,-6.4" fill="#111" stroke="#0a0a0a" stroke-width="2.16" stroke-linejoin="round" />
<ellipse cx="4.1" cy="-9.0" rx="1.3" ry="0.8" transform="rotate(-18 4.1 -9.0)" fill="#fff" stroke="#161616" stroke-width="0.00"/>
<ellipse cx="8.1" cy="-10.3" rx="1.8" ry="1.1" transform="rotate(-18 8.1 -10.3)" fill="#fff" stroke="#161616" stroke-width="0.00"/>
<ellipse cx="12.1" cy="-11.6" rx="1.3" ry="0.8" transform="rotate(-18 12.1 -11.6)" fill="#fff" stroke="#161616" stroke-width="0.00"/>
<polygon points="-3.4,11.4 -1.7,7.9 6.0,5.4 9.4,7.2 7.7,10.7 0.0,13.2" fill="#111" stroke="#0a0a0a" stroke-width="2.16" stroke-linejoin="round" />
<ellipse cx="-1.0" cy="10.6" rx="1.3" ry="0.8" transform="rotate(-18 -1.0 10.6)" fill="#fff" stroke="#161616" stroke-width="0.00"/>
<ellipse cx="3.0" cy="9.3" rx="1.8" ry="1.1" transform="rotate(-18 3.0 9.3)" fill="#fff" stroke="#161616" stroke-width="0.00"/>
<ellipse cx="7.0" cy="8.0" rx="1.3" ry="0.8" transform="rotate(-18 7.0 8.0)" fill="#fff" stroke="#161616" stroke-width="0.00"/>
</g>
<g transform="translate(526.1,549.1) scale(0.58)">
<ellipse cx="0.0" cy="0.0" rx="6.6" ry="5.8" transform="rotate(0 0.0 0.0)" fill="#fff" stroke="#0a0a0a" stroke-width="2.88"/>
<path d="M0.7,1.7 L6.0,1.6 M0.7,1.7 L3.4,4.6 M0.7,1.7 L-0.8,5.5 M0.7,1.7 L-4.6,3.7 M0.7,1.7 L-6.3,0.3 M0.7,1.7 L-5.0,-3.3 M0.7,1.7 L-1.4,-5.4 M0.7,1.7 L2.9,-4.9 M0.7,1.7 L5.8,-2.1" fill="none" stroke="#111" stroke-width="1.14" stroke-linejoin="round" stroke-linecap="round" />
<ellipse cx="0.7" cy="1.7" rx="2.5" ry="2.1" transform="rotate(0 0.7 1.7)" fill="#111" stroke="#161616" stroke-width="0.00"/>
<ellipse cx="13.7" cy="0.9" rx="5.0" ry="6.9" transform="rotate(0 13.7 0.9)" fill="#fff" stroke="#0a0a0a" stroke-width="2.88"/>
<path d="M15.2,0.9 L18.2,2.8 M15.2,0.9 L16.3,6.4 M15.2,0.9 L13.1,7.4 M15.2,0.9 L10.2,5.4 M15.2,0.9 L9.0,1.2 M15.2,0.9 L9.9,-3.1 M15.2,0.9 L12.6,-5.5 M15.2,0.9 L15.9,-4.9 M15.2,0.9 L18.1,-1.6" fill="none" stroke="#111" stroke-width="1.14" stroke-linejoin="round" stroke-linecap="round" />
<ellipse cx="15.2" cy="0.9" rx="1.9" ry="2.5" transform="rotate(0 15.2 0.9)" fill="#111" stroke="#161616" stroke-width="0.00"/>
<polygon points="1.7,-8.2 3.4,-11.7 11.1,-14.2 14.5,-12.4 12.8,-8.9 5.1,-6.4" fill="#111" stroke="#0a0a0a" stroke-width="2.16" stroke-linejoin="round" />
<ellipse cx="4.1" cy="-9.0" rx="1.3" ry="0.8" transform="rotate(-18 4.1 -9.0)" fill="#fff" stroke="#161616" stroke-width="0.00"/>
<ellipse cx="8.1" cy="-10.3" rx="1.8" ry="1.1" transform="rotate(-18 8.1 -10.3)" fill="#fff" stroke="#161616" stroke-width="0.00"/>
<ellipse cx="12.1" cy="-11.6" rx="1.3" ry="0.8" transform="rotate(-18 12.1 -11.6)" fill="#fff" stroke="#161616" stroke-width="0.00"/>
<polygon points="-3.4,11.4 -1.7,7.9 6.0,5.4 9.4,7.2 7.7,10.7 0.0,13.2" fill="#111" stroke="#0a0a0a" stroke-width="2.16" stroke-linejoin="round" />
<ellipse cx="-1.0" cy="10.6" rx="1.3" ry="0.8" transform="rotate(-18 -1.0 10.6)" fill="#fff" stroke="#161616" stroke-width="0.00"/>
<ellipse cx="3.0" cy="9.3" rx="1.8" ry="1.1" transform="rotate(-18 3.0 9.3)" fill="#fff" stroke="#161616" stroke-width="0.00"/>
<ellipse cx="7.0" cy="8.0" rx="1.3" ry="0.8" transform="rotate(-18 7.0 8.0)" fill="#fff" stroke="#161616" stroke-width="0.00"/>
</g>
</g>
</svg>
</body></html>
